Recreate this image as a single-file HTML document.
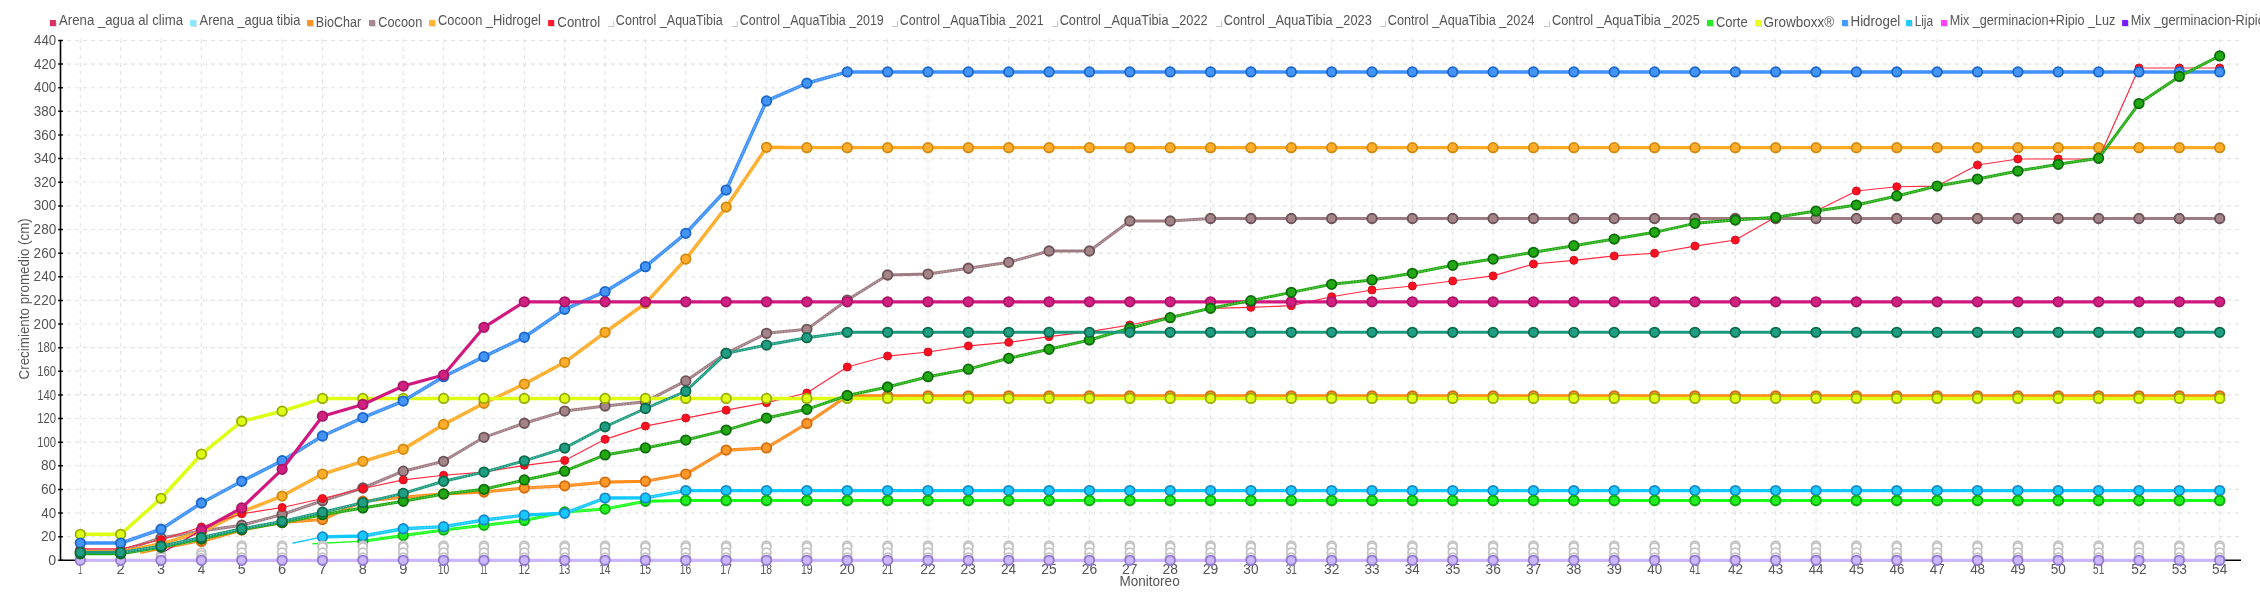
<!DOCTYPE html><html><head><meta charset="utf-8"><title>chart</title><style>
html,body{margin:0;padding:0;background:#fff;width:2260px;height:600px;overflow:hidden}
svg{display:block;position:absolute;left:0;top:0;will-change:transform}
text{font-family:"Liberation Sans", sans-serif;fill:#555555}
</style></head><body>
<svg width="2260" height="600" viewBox="0 0 2260 600">
<path d="M67 536.67 H2240 M67 513.04 H2240 M67 489.42 H2240 M67 465.79 H2240 M67 442.16 H2240 M67 418.53 H2240 M67 394.9 H2240 M67 371.28 H2240 M67 347.65 H2240 M67 324.02 H2240 M67 300.39 H2240 M67 276.76 H2240 M67 253.14 H2240 M67 229.51 H2240 M67 205.88 H2240 M67 182.25 H2240 M67 158.62 H2240 M67 135 H2240 M67 111.37 H2240 M67 87.74 H2240 M67 64.11 H2240 M67 40.48 H2240" stroke="#e2e2e2" stroke-width="1.1" stroke-dasharray="4 4" fill="none"/>
<path d="M80.3 39 V559 M120.67 39 V559 M161.03 39 V559 M201.4 39 V559 M241.76 39 V559 M282.13 39 V559 M322.5 39 V559 M362.86 39 V559 M403.23 39 V559 M443.59 39 V559 M483.96 39 V559 M524.33 39 V559 M564.69 39 V559 M605.06 39 V559 M645.42 39 V559 M685.79 39 V559 M726.16 39 V559 M766.52 39 V559 M806.89 39 V559 M847.25 39 V559 M887.62 39 V559 M927.99 39 V559 M968.35 39 V559 M1008.72 39 V559 M1049.08 39 V559 M1089.45 39 V559 M1129.82 39 V559 M1170.18 39 V559 M1210.55 39 V559 M1250.91 39 V559 M1291.28 39 V559 M1331.65 39 V559 M1372.01 39 V559 M1412.38 39 V559 M1452.74 39 V559 M1493.11 39 V559 M1533.48 39 V559 M1573.84 39 V559 M1614.21 39 V559 M1654.57 39 V559 M1694.94 39 V559 M1735.31 39 V559 M1775.67 39 V559 M1816.04 39 V559 M1856.4 39 V559 M1896.77 39 V559 M1937.14 39 V559 M1977.5 39 V559 M2017.87 39 V559 M2058.23 39 V559 M2098.6 39 V559 M2138.97 39 V559 M2179.33 39 V559 M2219.7 39 V559" stroke="#e2e2e2" stroke-width="1.1" stroke-dasharray="4 4" fill="none"/>
<path d="M60.5 40 V560.3 H2241" stroke="#000" stroke-width="1.6" fill="none"/>
<path d="M58.2 560.3 H62.9 M58.2 536.67 H62.9 M58.2 513.04 H62.9 M58.2 489.42 H62.9 M58.2 465.79 H62.9 M58.2 442.16 H62.9 M58.2 418.53 H62.9 M58.2 394.9 H62.9 M58.2 371.28 H62.9 M58.2 347.65 H62.9 M58.2 324.02 H62.9 M58.2 300.39 H62.9 M58.2 276.76 H62.9 M58.2 253.14 H62.9 M58.2 229.51 H62.9 M58.2 205.88 H62.9 M58.2 182.25 H62.9 M58.2 158.62 H62.9 M58.2 135 H62.9 M58.2 111.37 H62.9 M58.2 87.74 H62.9 M58.2 64.11 H62.9 M58.2 40.48 H62.9" stroke="#000" stroke-width="1.5" fill="none"/>
<text x="48.34" y="564.9" font-size="15.5" textLength="7.91" lengthAdjust="spacingAndGlyphs">0</text>
<text x="40.91" y="541.27" font-size="15.5" textLength="15.33" lengthAdjust="spacingAndGlyphs">20</text>
<text x="41.29" y="517.64" font-size="15.5" textLength="14.93" lengthAdjust="spacingAndGlyphs">40</text>
<text x="40.9" y="494.02" font-size="15.5" textLength="15.34" lengthAdjust="spacingAndGlyphs">60</text>
<text x="41" y="470.39" font-size="15.5" textLength="15.23" lengthAdjust="spacingAndGlyphs">80</text>
<text x="37.24" y="446.76" font-size="15.5" textLength="18.91" lengthAdjust="spacingAndGlyphs">100</text>
<text x="37.24" y="423.13" font-size="15.5" textLength="18.91" lengthAdjust="spacingAndGlyphs">120</text>
<text x="37.24" y="399.5" font-size="15.5" textLength="18.91" lengthAdjust="spacingAndGlyphs">140</text>
<text x="37.24" y="375.88" font-size="15.5" textLength="18.91" lengthAdjust="spacingAndGlyphs">160</text>
<text x="37.24" y="352.25" font-size="15.5" textLength="18.91" lengthAdjust="spacingAndGlyphs">180</text>
<text x="33.62" y="328.62" font-size="15.5" textLength="22.61" lengthAdjust="spacingAndGlyphs">200</text>
<text x="33.62" y="304.99" font-size="15.5" textLength="22.61" lengthAdjust="spacingAndGlyphs">220</text>
<text x="33.62" y="281.36" font-size="15.5" textLength="22.61" lengthAdjust="spacingAndGlyphs">240</text>
<text x="33.62" y="257.74" font-size="15.5" textLength="22.61" lengthAdjust="spacingAndGlyphs">260</text>
<text x="33.62" y="234.11" font-size="15.5" textLength="22.61" lengthAdjust="spacingAndGlyphs">280</text>
<text x="33.79" y="210.48" font-size="15.5" textLength="22.44" lengthAdjust="spacingAndGlyphs">300</text>
<text x="33.79" y="186.85" font-size="15.5" textLength="22.44" lengthAdjust="spacingAndGlyphs">320</text>
<text x="33.79" y="163.22" font-size="15.5" textLength="22.44" lengthAdjust="spacingAndGlyphs">340</text>
<text x="33.79" y="139.6" font-size="15.5" textLength="22.44" lengthAdjust="spacingAndGlyphs">360</text>
<text x="33.79" y="115.97" font-size="15.5" textLength="22.44" lengthAdjust="spacingAndGlyphs">380</text>
<text x="33.99" y="92.34" font-size="15.5" textLength="22.23" lengthAdjust="spacingAndGlyphs">400</text>
<text x="33.99" y="68.71" font-size="15.5" textLength="22.23" lengthAdjust="spacingAndGlyphs">420</text>
<text x="33.99" y="45.08" font-size="15.5" textLength="22.23" lengthAdjust="spacingAndGlyphs">440</text>
<text x="78.27" y="573.8" font-size="15.5" textLength="3.87" lengthAdjust="spacingAndGlyphs">1</text>
<text x="116.52" y="573.8" font-size="15.5" textLength="8.3" lengthAdjust="spacingAndGlyphs">2</text>
<text x="157.09" y="573.8" font-size="15.5" textLength="7.98" lengthAdjust="spacingAndGlyphs">3</text>
<text x="197.69" y="573.8" font-size="15.5" textLength="7.51" lengthAdjust="spacingAndGlyphs">4</text>
<text x="237.79" y="573.8" font-size="15.5" textLength="7.98" lengthAdjust="spacingAndGlyphs">5</text>
<text x="277.98" y="573.8" font-size="15.5" textLength="8.2" lengthAdjust="spacingAndGlyphs">6</text>
<text x="318.33" y="573.8" font-size="15.5" textLength="8.32" lengthAdjust="spacingAndGlyphs">7</text>
<text x="358.83" y="573.8" font-size="15.5" textLength="8.06" lengthAdjust="spacingAndGlyphs">8</text>
<text x="399.14" y="573.8" font-size="15.5" textLength="8.19" lengthAdjust="spacingAndGlyphs">9</text>
<text x="437.66" y="573.8" font-size="15.5" textLength="11.49" lengthAdjust="spacingAndGlyphs">10</text>
<text x="480.21" y="573.8" font-size="15.5" textLength="7.32" lengthAdjust="spacingAndGlyphs">11</text>
<text x="518.38" y="573.8" font-size="15.5" textLength="11.62" lengthAdjust="spacingAndGlyphs">12</text>
<text x="558.75" y="573.8" font-size="15.5" textLength="11.55" lengthAdjust="spacingAndGlyphs">13</text>
<text x="599.13" y="573.8" font-size="15.5" textLength="11.38" lengthAdjust="spacingAndGlyphs">14</text>
<text x="639.48" y="573.8" font-size="15.5" textLength="11.52" lengthAdjust="spacingAndGlyphs">15</text>
<text x="679.85" y="573.8" font-size="15.5" textLength="11.55" lengthAdjust="spacingAndGlyphs">16</text>
<text x="720.21" y="573.8" font-size="15.5" textLength="11.62" lengthAdjust="spacingAndGlyphs">17</text>
<text x="760.58" y="573.8" font-size="15.5" textLength="11.54" lengthAdjust="spacingAndGlyphs">18</text>
<text x="800.94" y="573.8" font-size="15.5" textLength="11.59" lengthAdjust="spacingAndGlyphs">19</text>
<text x="839.51" y="573.8" font-size="15.5" textLength="15.33" lengthAdjust="spacingAndGlyphs">20</text>
<text x="881.96" y="573.8" font-size="15.5" textLength="11.31" lengthAdjust="spacingAndGlyphs">21</text>
<text x="920.24" y="573.8" font-size="15.5" textLength="15.5" lengthAdjust="spacingAndGlyphs">22</text>
<text x="960.61" y="573.8" font-size="15.5" textLength="15.41" lengthAdjust="spacingAndGlyphs">23</text>
<text x="1000.98" y="573.8" font-size="15.5" textLength="15.19" lengthAdjust="spacingAndGlyphs">24</text>
<text x="1041.34" y="573.8" font-size="15.5" textLength="15.38" lengthAdjust="spacingAndGlyphs">25</text>
<text x="1081.7" y="573.8" font-size="15.5" textLength="15.41" lengthAdjust="spacingAndGlyphs">26</text>
<text x="1122.07" y="573.8" font-size="15.5" textLength="15.5" lengthAdjust="spacingAndGlyphs">27</text>
<text x="1162.44" y="573.8" font-size="15.5" textLength="15.4" lengthAdjust="spacingAndGlyphs">28</text>
<text x="1202.8" y="573.8" font-size="15.5" textLength="15.46" lengthAdjust="spacingAndGlyphs">29</text>
<text x="1243.35" y="573.8" font-size="15.5" textLength="15.15" lengthAdjust="spacingAndGlyphs">30</text>
<text x="1285.75" y="573.8" font-size="15.5" textLength="11.17" lengthAdjust="spacingAndGlyphs">31</text>
<text x="1324.07" y="573.8" font-size="15.5" textLength="15.32" lengthAdjust="spacingAndGlyphs">32</text>
<text x="1364.44" y="573.8" font-size="15.5" textLength="15.22" lengthAdjust="spacingAndGlyphs">33</text>
<text x="1404.81" y="573.8" font-size="15.5" textLength="15.01" lengthAdjust="spacingAndGlyphs">34</text>
<text x="1445.17" y="573.8" font-size="15.5" textLength="15.19" lengthAdjust="spacingAndGlyphs">35</text>
<text x="1485.54" y="573.8" font-size="15.5" textLength="15.22" lengthAdjust="spacingAndGlyphs">36</text>
<text x="1525.9" y="573.8" font-size="15.5" textLength="15.32" lengthAdjust="spacingAndGlyphs">37</text>
<text x="1566.27" y="573.8" font-size="15.5" textLength="15.22" lengthAdjust="spacingAndGlyphs">38</text>
<text x="1606.64" y="573.8" font-size="15.5" textLength="15.27" lengthAdjust="spacingAndGlyphs">39</text>
<text x="1647.22" y="573.8" font-size="15.5" textLength="14.93" lengthAdjust="spacingAndGlyphs">40</text>
<text x="1689.56" y="573.8" font-size="15.5" textLength="11.01" lengthAdjust="spacingAndGlyphs">41</text>
<text x="1727.94" y="573.8" font-size="15.5" textLength="15.09" lengthAdjust="spacingAndGlyphs">42</text>
<text x="1768.31" y="573.8" font-size="15.5" textLength="15" lengthAdjust="spacingAndGlyphs">43</text>
<text x="1808.68" y="573.8" font-size="15.5" textLength="14.79" lengthAdjust="spacingAndGlyphs">44</text>
<text x="1849.05" y="573.8" font-size="15.5" textLength="14.97" lengthAdjust="spacingAndGlyphs">45</text>
<text x="1889.41" y="573.8" font-size="15.5" textLength="15" lengthAdjust="spacingAndGlyphs">46</text>
<text x="1929.77" y="573.8" font-size="15.5" textLength="15.09" lengthAdjust="spacingAndGlyphs">47</text>
<text x="1970.14" y="573.8" font-size="15.5" textLength="15" lengthAdjust="spacingAndGlyphs">48</text>
<text x="2010.51" y="573.8" font-size="15.5" textLength="15.05" lengthAdjust="spacingAndGlyphs">49</text>
<text x="2050.64" y="573.8" font-size="15.5" textLength="15.18" lengthAdjust="spacingAndGlyphs">50</text>
<text x="2093.05" y="573.8" font-size="15.5" textLength="11.19" lengthAdjust="spacingAndGlyphs">51</text>
<text x="2131.36" y="573.8" font-size="15.5" textLength="15.35" lengthAdjust="spacingAndGlyphs">52</text>
<text x="2171.73" y="573.8" font-size="15.5" textLength="15.25" lengthAdjust="spacingAndGlyphs">53</text>
<text x="2212.11" y="573.8" font-size="15.5" textLength="15.04" lengthAdjust="spacingAndGlyphs">54</text>
<text x="1119.59" y="586" font-size="15.5" textLength="60.08" lengthAdjust="spacingAndGlyphs">Monitoreo</text>
<text transform="translate(29.2 378.75) rotate(-90)" x="-0.68" y="0" font-size="15.5" textLength="161.26" lengthAdjust="spacingAndGlyphs">Crecimiento promedio (cm)</text>
<path d="M140 553.2 L201.4 541.4" stroke="#ff8c1a" stroke-width="1.4" fill="none"/><path d="M201.4 541.4 241.76 530.06 282.13 522.5 322.5 519.54 362.86 501.23 403.23 497.33 443.59 493.91 483.96 492.02 524.33 488 564.69 485.87 605.06 482.09 645.42 481.26 685.79 474.06 726.16 450.08 766.52 447.95 806.89 423.49 847.25 395.85 887.62 395.85 927.99 395.85 968.35 395.85 1008.72 395.85 1049.08 395.85 1089.45 395.85 1129.82 395.85 1170.18 395.85 1210.55 395.85 1250.91 395.85 1291.28 395.85 1331.65 395.85 1372.01 395.85 1412.38 395.85 1452.74 395.85 1493.11 395.85 1533.48 395.85 1573.84 395.85 1614.21 395.85 1654.57 395.85 1694.94 395.85 1735.31 395.85 1775.67 395.85 1816.04 395.85 1856.4 395.85 1896.77 395.85 1937.14 395.85 1977.5 395.85 2017.87 395.85 2058.23 395.85 2098.6 395.85 2138.97 395.85 2179.33 395.85 2219.7 395.85" stroke="#ff8c1a" stroke-width="3.1" fill="none" stroke-linejoin="round" stroke-linecap="round"/><path d="M201.4 541.4 L241.76 530.06 M241.76 530.06 L282.13 522.5 M282.13 522.5 L322.5 519.54 M322.5 519.54 L362.86 501.23 M362.86 501.23 L403.23 497.33 M403.23 497.33 L443.59 493.91 M483.96 492.02 L524.33 488 M524.33 488 L564.69 485.87 M564.69 485.87 L605.06 482.09 M645.42 481.26 L685.79 474.06 M685.79 474.06 L726.16 450.08 M726.16 450.08 L766.52 447.95 M766.52 447.95 L806.89 423.49 M806.89 423.49 L847.25 395.85" stroke="#fff" stroke-opacity="0.45" stroke-width="0.9" stroke-dasharray="1.5 1.5" fill="none"/><g fill="#ff9a2a" stroke="#d36c10" stroke-width="1.8"><circle cx="201.4" cy="541.4" r="4.75"/><circle cx="241.76" cy="530.06" r="4.75"/><circle cx="282.13" cy="522.5" r="4.75"/><circle cx="322.5" cy="519.54" r="4.75"/><circle cx="362.86" cy="501.23" r="4.75"/><circle cx="403.23" cy="497.33" r="4.75"/><circle cx="443.59" cy="493.91" r="4.75"/><circle cx="483.96" cy="492.02" r="4.75"/><circle cx="524.33" cy="488" r="4.75"/><circle cx="564.69" cy="485.87" r="4.75"/><circle cx="605.06" cy="482.09" r="4.75"/><circle cx="645.42" cy="481.26" r="4.75"/><circle cx="685.79" cy="474.06" r="4.75"/><circle cx="726.16" cy="450.08" r="4.75"/><circle cx="766.52" cy="447.95" r="4.75"/><circle cx="806.89" cy="423.49" r="4.75"/><circle cx="847.25" cy="395.85" r="4.75"/><circle cx="887.62" cy="395.85" r="4.75"/><circle cx="927.99" cy="395.85" r="4.75"/><circle cx="968.35" cy="395.85" r="4.75"/><circle cx="1008.72" cy="395.85" r="4.75"/><circle cx="1049.08" cy="395.85" r="4.75"/><circle cx="1089.45" cy="395.85" r="4.75"/><circle cx="1129.82" cy="395.85" r="4.75"/><circle cx="1170.18" cy="395.85" r="4.75"/><circle cx="1210.55" cy="395.85" r="4.75"/><circle cx="1250.91" cy="395.85" r="4.75"/><circle cx="1291.28" cy="395.85" r="4.75"/><circle cx="1331.65" cy="395.85" r="4.75"/><circle cx="1372.01" cy="395.85" r="4.75"/><circle cx="1412.38" cy="395.85" r="4.75"/><circle cx="1452.74" cy="395.85" r="4.75"/><circle cx="1493.11" cy="395.85" r="4.75"/><circle cx="1533.48" cy="395.85" r="4.75"/><circle cx="1573.84" cy="395.85" r="4.75"/><circle cx="1614.21" cy="395.85" r="4.75"/><circle cx="1654.57" cy="395.85" r="4.75"/><circle cx="1694.94" cy="395.85" r="4.75"/><circle cx="1735.31" cy="395.85" r="4.75"/><circle cx="1775.67" cy="395.85" r="4.75"/><circle cx="1816.04" cy="395.85" r="4.75"/><circle cx="1856.4" cy="395.85" r="4.75"/><circle cx="1896.77" cy="395.85" r="4.75"/><circle cx="1937.14" cy="395.85" r="4.75"/><circle cx="1977.5" cy="395.85" r="4.75"/><circle cx="2017.87" cy="395.85" r="4.75"/><circle cx="2058.23" cy="395.85" r="4.75"/><circle cx="2098.6" cy="395.85" r="4.75"/><circle cx="2138.97" cy="395.85" r="4.75"/><circle cx="2179.33" cy="395.85" r="4.75"/><circle cx="2219.7" cy="395.85" r="4.75"/></g>
<path d="M80.3 550.85 120.67 550.85 161.03 537.97 201.4 531 241.76 525.21 282.13 514.46 322.5 500.76 362.86 488 403.23 471.22 443.59 461.3 483.96 437.32 524.33 423.26 564.69 411.09 605.06 406.01 645.42 401.64 685.79 380.96 726.16 353.32 766.52 333.35 806.89 329.34 847.25 300.04 887.62 274.99 927.99 274.05 968.35 268.26 1008.72 262.35 1049.08 251.01 1089.45 251.01 1129.82 221 1170.18 221 1210.55 218.52 1250.91 218.52 1291.28 218.52 1331.65 218.52 1372.01 218.52 1412.38 218.52 1452.74 218.52 1493.11 218.52 1533.48 218.52 1573.84 218.52 1614.21 218.52 1654.57 218.52 1694.94 218.52 1735.31 218.52 1775.67 218.52 1816.04 218.52 1856.4 218.52 1896.77 218.52 1937.14 218.52 1977.5 218.52 2017.87 218.52 2058.23 218.52 2098.6 218.52 2138.97 218.52 2179.33 218.52 2219.7 218.52" stroke="#9e7b82" stroke-width="3.0" fill="none" stroke-linejoin="round" stroke-linecap="round"/><path d="M120.67 550.85 L161.03 537.97 M161.03 537.97 L201.4 531 M201.4 531 L241.76 525.21 M241.76 525.21 L282.13 514.46 M282.13 514.46 L322.5 500.76 M322.5 500.76 L362.86 488 M362.86 488 L403.23 471.22 M403.23 471.22 L443.59 461.3 M443.59 461.3 L483.96 437.32 M483.96 437.32 L524.33 423.26 M524.33 423.26 L564.69 411.09 M564.69 411.09 L605.06 406.01 M605.06 406.01 L645.42 401.64 M645.42 401.64 L685.79 380.96 M685.79 380.96 L726.16 353.32 M726.16 353.32 L766.52 333.35 M766.52 333.35 L806.89 329.34 M806.89 329.34 L847.25 300.04 M847.25 300.04 L887.62 274.99 M927.99 274.05 L968.35 268.26 M968.35 268.26 L1008.72 262.35 M1008.72 262.35 L1049.08 251.01 M1089.45 251.01 L1129.82 221 M1170.18 221 L1210.55 218.52" stroke="#fff" stroke-opacity="0.45" stroke-width="0.9" stroke-dasharray="1.5 1.5" fill="none"/><g fill="#a38489" stroke="#6e5258" stroke-width="1.8"><circle cx="80.3" cy="550.85" r="4.75"/><circle cx="120.67" cy="550.85" r="4.75"/><circle cx="161.03" cy="537.97" r="4.75"/><circle cx="201.4" cy="531" r="4.75"/><circle cx="241.76" cy="525.21" r="4.75"/><circle cx="282.13" cy="514.46" r="4.75"/><circle cx="322.5" cy="500.76" r="4.75"/><circle cx="362.86" cy="488" r="4.75"/><circle cx="403.23" cy="471.22" r="4.75"/><circle cx="443.59" cy="461.3" r="4.75"/><circle cx="483.96" cy="437.32" r="4.75"/><circle cx="524.33" cy="423.26" r="4.75"/><circle cx="564.69" cy="411.09" r="4.75"/><circle cx="605.06" cy="406.01" r="4.75"/><circle cx="645.42" cy="401.64" r="4.75"/><circle cx="685.79" cy="380.96" r="4.75"/><circle cx="726.16" cy="353.32" r="4.75"/><circle cx="766.52" cy="333.35" r="4.75"/><circle cx="806.89" cy="329.34" r="4.75"/><circle cx="847.25" cy="300.04" r="4.75"/><circle cx="887.62" cy="274.99" r="4.75"/><circle cx="927.99" cy="274.05" r="4.75"/><circle cx="968.35" cy="268.26" r="4.75"/><circle cx="1008.72" cy="262.35" r="4.75"/><circle cx="1049.08" cy="251.01" r="4.75"/><circle cx="1089.45" cy="251.01" r="4.75"/><circle cx="1129.82" cy="221" r="4.75"/><circle cx="1170.18" cy="221" r="4.75"/><circle cx="1210.55" cy="218.52" r="4.75"/><circle cx="1250.91" cy="218.52" r="4.75"/><circle cx="1291.28" cy="218.52" r="4.75"/><circle cx="1331.65" cy="218.52" r="4.75"/><circle cx="1372.01" cy="218.52" r="4.75"/><circle cx="1412.38" cy="218.52" r="4.75"/><circle cx="1452.74" cy="218.52" r="4.75"/><circle cx="1493.11" cy="218.52" r="4.75"/><circle cx="1533.48" cy="218.52" r="4.75"/><circle cx="1573.84" cy="218.52" r="4.75"/><circle cx="1614.21" cy="218.52" r="4.75"/><circle cx="1654.57" cy="218.52" r="4.75"/><circle cx="1694.94" cy="218.52" r="4.75"/><circle cx="1735.31" cy="218.52" r="4.75"/><circle cx="1775.67" cy="218.52" r="4.75"/><circle cx="1816.04" cy="218.52" r="4.75"/><circle cx="1856.4" cy="218.52" r="4.75"/><circle cx="1896.77" cy="218.52" r="4.75"/><circle cx="1937.14" cy="218.52" r="4.75"/><circle cx="1977.5" cy="218.52" r="4.75"/><circle cx="2017.87" cy="218.52" r="4.75"/><circle cx="2058.23" cy="218.52" r="4.75"/><circle cx="2098.6" cy="218.52" r="4.75"/><circle cx="2138.97" cy="218.52" r="4.75"/><circle cx="2179.33" cy="218.52" r="4.75"/><circle cx="2219.7" cy="218.52" r="4.75"/></g>
<path d="M80.3 552.03 120.67 552.03 161.03 543.76 201.4 531.95 241.76 511.86 282.13 496.03 322.5 474.06 362.86 461.3 403.23 449.25 443.59 424.44 483.96 403.29 524.33 384.04 564.69 362.3 605.06 332.29 645.42 303.35 685.79 259.04 726.16 207.06 766.52 147.28 806.89 147.64 847.25 147.64 887.62 147.64 927.99 147.64 968.35 147.64 1008.72 147.64 1049.08 147.64 1089.45 147.64 1129.82 147.64 1170.18 147.64 1210.55 147.64 1250.91 147.64 1291.28 147.64 1331.65 147.64 1372.01 147.64 1412.38 147.64 1452.74 147.64 1493.11 147.64 1533.48 147.64 1573.84 147.64 1614.21 147.64 1654.57 147.64 1694.94 147.64 1735.31 147.64 1775.67 147.64 1816.04 147.64 1856.4 147.64 1896.77 147.64 1937.14 147.64 1977.5 147.64 2017.87 147.64 2058.23 147.64 2098.6 147.64 2138.97 147.64 2179.33 147.64 2219.7 147.64" stroke="#ffaa22" stroke-width="3.4" fill="none" stroke-linejoin="round" stroke-linecap="round"/><path d="M120.67 552.03 L161.03 543.76 M161.03 543.76 L201.4 531.95 M201.4 531.95 L241.76 511.86 M241.76 511.86 L282.13 496.03 M282.13 496.03 L322.5 474.06 M322.5 474.06 L362.86 461.3 M362.86 461.3 L403.23 449.25 M403.23 449.25 L443.59 424.44 M443.59 424.44 L483.96 403.29 M483.96 403.29 L524.33 384.04 M524.33 384.04 L564.69 362.3 M564.69 362.3 L605.06 332.29 M605.06 332.29 L645.42 303.35 M645.42 303.35 L685.79 259.04 M685.79 259.04 L726.16 207.06 M726.16 207.06 L766.52 147.28" stroke="#fff" stroke-opacity="0.45" stroke-width="0.9" stroke-dasharray="1.5 1.5" fill="none"/><g fill="#ffad2a" stroke="#d08a10" stroke-width="1.8"><circle cx="80.3" cy="552.03" r="4.75"/><circle cx="120.67" cy="552.03" r="4.75"/><circle cx="161.03" cy="543.76" r="4.75"/><circle cx="201.4" cy="531.95" r="4.75"/><circle cx="241.76" cy="511.86" r="4.75"/><circle cx="282.13" cy="496.03" r="4.75"/><circle cx="322.5" cy="474.06" r="4.75"/><circle cx="362.86" cy="461.3" r="4.75"/><circle cx="403.23" cy="449.25" r="4.75"/><circle cx="443.59" cy="424.44" r="4.75"/><circle cx="483.96" cy="403.29" r="4.75"/><circle cx="524.33" cy="384.04" r="4.75"/><circle cx="564.69" cy="362.3" r="4.75"/><circle cx="605.06" cy="332.29" r="4.75"/><circle cx="645.42" cy="303.35" r="4.75"/><circle cx="685.79" cy="259.04" r="4.75"/><circle cx="726.16" cy="207.06" r="4.75"/><circle cx="766.52" cy="147.28" r="4.75"/><circle cx="806.89" cy="147.64" r="4.75"/><circle cx="847.25" cy="147.64" r="4.75"/><circle cx="887.62" cy="147.64" r="4.75"/><circle cx="927.99" cy="147.64" r="4.75"/><circle cx="968.35" cy="147.64" r="4.75"/><circle cx="1008.72" cy="147.64" r="4.75"/><circle cx="1049.08" cy="147.64" r="4.75"/><circle cx="1089.45" cy="147.64" r="4.75"/><circle cx="1129.82" cy="147.64" r="4.75"/><circle cx="1170.18" cy="147.64" r="4.75"/><circle cx="1210.55" cy="147.64" r="4.75"/><circle cx="1250.91" cy="147.64" r="4.75"/><circle cx="1291.28" cy="147.64" r="4.75"/><circle cx="1331.65" cy="147.64" r="4.75"/><circle cx="1372.01" cy="147.64" r="4.75"/><circle cx="1412.38" cy="147.64" r="4.75"/><circle cx="1452.74" cy="147.64" r="4.75"/><circle cx="1493.11" cy="147.64" r="4.75"/><circle cx="1533.48" cy="147.64" r="4.75"/><circle cx="1573.84" cy="147.64" r="4.75"/><circle cx="1614.21" cy="147.64" r="4.75"/><circle cx="1654.57" cy="147.64" r="4.75"/><circle cx="1694.94" cy="147.64" r="4.75"/><circle cx="1735.31" cy="147.64" r="4.75"/><circle cx="1775.67" cy="147.64" r="4.75"/><circle cx="1816.04" cy="147.64" r="4.75"/><circle cx="1856.4" cy="147.64" r="4.75"/><circle cx="1896.77" cy="147.64" r="4.75"/><circle cx="1937.14" cy="147.64" r="4.75"/><circle cx="1977.5" cy="147.64" r="4.75"/><circle cx="2017.87" cy="147.64" r="4.75"/><circle cx="2058.23" cy="147.64" r="4.75"/><circle cx="2098.6" cy="147.64" r="4.75"/><circle cx="2138.97" cy="147.64" r="4.75"/><circle cx="2179.33" cy="147.64" r="4.75"/><circle cx="2219.7" cy="147.64" r="4.75"/></g>
<path d="M80.3 548.96 120.67 548.96 161.03 539.74 201.4 526.98 241.76 513.75 282.13 507.49 322.5 498.51 362.86 488.47 403.23 479.96 443.59 475.24 483.96 472.05 524.33 465.32 564.69 460.47 605.06 439.32 645.42 426.09 685.79 418.06 726.16 410.14 766.52 402.7 806.89 393.01 847.25 367.02 887.62 356.04 927.99 352.02 968.35 345.88 1008.72 342.33 1049.08 336.66 1089.45 331.7 1129.82 324.97 1170.18 316.7 1210.55 308.31 1250.91 307.36 1291.28 305.71 1331.65 296.73 1372.01 290 1412.38 285.98 1452.74 281.02 1493.11 275.94 1533.48 264 1573.84 260.34 1614.21 255.97 1654.57 253.25 1694.94 246.05 1735.31 240.02 1775.67 217.1 1816.04 211.08 1856.4 190.99 1896.77 186.74 1937.14 186.03 1977.5 165 2017.87 158.98 2058.23 158.98 2098.6 158.98 2138.97 68.01 2179.33 68.01 2219.7 68.01" stroke="#ff2a40" stroke-width="1.2" fill="none" stroke-linejoin="round" stroke-linecap="round"/><g fill="#ff1020" stroke="#d01020" stroke-width="1.0"><circle cx="80.3" cy="548.96" r="4.0"/><circle cx="120.67" cy="548.96" r="4.0"/><circle cx="161.03" cy="539.74" r="4.0"/><circle cx="201.4" cy="526.98" r="4.0"/><circle cx="241.76" cy="513.75" r="4.0"/><circle cx="282.13" cy="507.49" r="4.0"/><circle cx="322.5" cy="498.51" r="4.0"/><circle cx="362.86" cy="488.47" r="4.0"/><circle cx="403.23" cy="479.96" r="4.0"/><circle cx="443.59" cy="475.24" r="4.0"/><circle cx="483.96" cy="472.05" r="4.0"/><circle cx="524.33" cy="465.32" r="4.0"/><circle cx="564.69" cy="460.47" r="4.0"/><circle cx="605.06" cy="439.32" r="4.0"/><circle cx="645.42" cy="426.09" r="4.0"/><circle cx="685.79" cy="418.06" r="4.0"/><circle cx="726.16" cy="410.14" r="4.0"/><circle cx="766.52" cy="402.7" r="4.0"/><circle cx="806.89" cy="393.01" r="4.0"/><circle cx="847.25" cy="367.02" r="4.0"/><circle cx="887.62" cy="356.04" r="4.0"/><circle cx="927.99" cy="352.02" r="4.0"/><circle cx="968.35" cy="345.88" r="4.0"/><circle cx="1008.72" cy="342.33" r="4.0"/><circle cx="1049.08" cy="336.66" r="4.0"/><circle cx="1089.45" cy="331.7" r="4.0"/><circle cx="1129.82" cy="324.97" r="4.0"/><circle cx="1170.18" cy="316.7" r="4.0"/><circle cx="1210.55" cy="308.31" r="4.0"/><circle cx="1250.91" cy="307.36" r="4.0"/><circle cx="1291.28" cy="305.71" r="4.0"/><circle cx="1331.65" cy="296.73" r="4.0"/><circle cx="1372.01" cy="290" r="4.0"/><circle cx="1412.38" cy="285.98" r="4.0"/><circle cx="1452.74" cy="281.02" r="4.0"/><circle cx="1493.11" cy="275.94" r="4.0"/><circle cx="1533.48" cy="264" r="4.0"/><circle cx="1573.84" cy="260.34" r="4.0"/><circle cx="1614.21" cy="255.97" r="4.0"/><circle cx="1654.57" cy="253.25" r="4.0"/><circle cx="1694.94" cy="246.05" r="4.0"/><circle cx="1735.31" cy="240.02" r="4.0"/><circle cx="1775.67" cy="217.1" r="4.0"/><circle cx="1816.04" cy="211.08" r="4.0"/><circle cx="1856.4" cy="190.99" r="4.0"/><circle cx="1896.77" cy="186.74" r="4.0"/><circle cx="1937.14" cy="186.03" r="4.0"/><circle cx="1977.5" cy="165" r="4.0"/><circle cx="2017.87" cy="158.98" r="4.0"/><circle cx="2058.23" cy="158.98" r="4.0"/><circle cx="2098.6" cy="158.98" r="4.0"/><circle cx="2138.97" cy="68.01" r="4.0"/><circle cx="2179.33" cy="68.01" r="4.0"/><circle cx="2219.7" cy="68.01" r="4.0"/></g>
<path d="M80.3 534.31 120.67 534.31 161.03 498.28 201.4 454.21 241.76 421.25 282.13 411.21 322.5 398.45 362.86 398.45 403.23 398.45 443.59 398.45 483.96 398.45 524.33 398.45 564.69 398.45 605.06 398.45 645.42 398.45 685.79 398.45 726.16 398.45 766.52 398.45 806.89 398.45 847.25 398.45 887.62 398.45 927.99 398.45 968.35 398.45 1008.72 398.45 1049.08 398.45 1089.45 398.45 1129.82 398.45 1170.18 398.45 1210.55 398.45 1250.91 398.45 1291.28 398.45 1331.65 398.45 1372.01 398.45 1412.38 398.45 1452.74 398.45 1493.11 398.45 1533.48 398.45 1573.84 398.45 1614.21 398.45 1654.57 398.45 1694.94 398.45 1735.31 398.45 1775.67 398.45 1816.04 398.45 1856.4 398.45 1896.77 398.45 1937.14 398.45 1977.5 398.45 2017.87 398.45 2058.23 398.45 2098.6 398.45 2138.97 398.45 2179.33 398.45 2219.7 398.45" stroke="#ddff11" stroke-width="3.5" fill="none" stroke-linejoin="round" stroke-linecap="round"/><g fill="#ddff11" stroke="#9aab00" stroke-width="1.8"><circle cx="80.3" cy="534.31" r="4.75"/><circle cx="120.67" cy="534.31" r="4.75"/><circle cx="161.03" cy="498.28" r="4.75"/><circle cx="201.4" cy="454.21" r="4.75"/><circle cx="241.76" cy="421.25" r="4.75"/><circle cx="282.13" cy="411.21" r="4.75"/><circle cx="322.5" cy="398.45" r="4.75"/><circle cx="362.86" cy="398.45" r="4.75"/><circle cx="403.23" cy="398.45" r="4.75"/><circle cx="443.59" cy="398.45" r="4.75"/><circle cx="483.96" cy="398.45" r="4.75"/><circle cx="524.33" cy="398.45" r="4.75"/><circle cx="564.69" cy="398.45" r="4.75"/><circle cx="605.06" cy="398.45" r="4.75"/><circle cx="645.42" cy="398.45" r="4.75"/><circle cx="685.79" cy="398.45" r="4.75"/><circle cx="726.16" cy="398.45" r="4.75"/><circle cx="766.52" cy="398.45" r="4.75"/><circle cx="806.89" cy="398.45" r="4.75"/><circle cx="847.25" cy="398.45" r="4.75"/><circle cx="887.62" cy="398.45" r="4.75"/><circle cx="927.99" cy="398.45" r="4.75"/><circle cx="968.35" cy="398.45" r="4.75"/><circle cx="1008.72" cy="398.45" r="4.75"/><circle cx="1049.08" cy="398.45" r="4.75"/><circle cx="1089.45" cy="398.45" r="4.75"/><circle cx="1129.82" cy="398.45" r="4.75"/><circle cx="1170.18" cy="398.45" r="4.75"/><circle cx="1210.55" cy="398.45" r="4.75"/><circle cx="1250.91" cy="398.45" r="4.75"/><circle cx="1291.28" cy="398.45" r="4.75"/><circle cx="1331.65" cy="398.45" r="4.75"/><circle cx="1372.01" cy="398.45" r="4.75"/><circle cx="1412.38" cy="398.45" r="4.75"/><circle cx="1452.74" cy="398.45" r="4.75"/><circle cx="1493.11" cy="398.45" r="4.75"/><circle cx="1533.48" cy="398.45" r="4.75"/><circle cx="1573.84" cy="398.45" r="4.75"/><circle cx="1614.21" cy="398.45" r="4.75"/><circle cx="1654.57" cy="398.45" r="4.75"/><circle cx="1694.94" cy="398.45" r="4.75"/><circle cx="1735.31" cy="398.45" r="4.75"/><circle cx="1775.67" cy="398.45" r="4.75"/><circle cx="1816.04" cy="398.45" r="4.75"/><circle cx="1856.4" cy="398.45" r="4.75"/><circle cx="1896.77" cy="398.45" r="4.75"/><circle cx="1937.14" cy="398.45" r="4.75"/><circle cx="1977.5" cy="398.45" r="4.75"/><circle cx="2017.87" cy="398.45" r="4.75"/><circle cx="2058.23" cy="398.45" r="4.75"/><circle cx="2098.6" cy="398.45" r="4.75"/><circle cx="2138.97" cy="398.45" r="4.75"/><circle cx="2179.33" cy="398.45" r="4.75"/><circle cx="2219.7" cy="398.45" r="4.75"/></g>
<path d="M80.3 543.05 120.67 543.05 161.03 529.23 201.4 503 241.76 481.26 282.13 460.71 322.5 436.02 362.86 417.59 403.23 401.05 443.59 376.71 483.96 356.63 524.33 337.25 564.69 309.37 605.06 291.65 645.42 266.72 685.79 233.29 726.16 190.05 766.52 100.97 806.89 83.25 847.25 71.91 887.62 71.91 927.99 71.91 968.35 71.91 1008.72 71.91 1049.08 71.91 1089.45 71.91 1129.82 71.91 1170.18 71.91 1210.55 71.91 1250.91 71.91 1291.28 71.91 1331.65 71.91 1372.01 71.91 1412.38 71.91 1452.74 71.91 1493.11 71.91 1533.48 71.91 1573.84 71.91 1614.21 71.91 1654.57 71.91 1694.94 71.91 1735.31 71.91 1775.67 71.91 1816.04 71.91 1856.4 71.91 1896.77 71.91 1937.14 71.91 1977.5 71.91 2017.87 71.91 2058.23 71.91 2098.6 71.91 2138.97 71.91 2179.33 71.91 2219.7 71.91" stroke="#3d91ff" stroke-width="3.5" fill="none" stroke-linejoin="round" stroke-linecap="round"/><path d="M120.67 543.05 L161.03 529.23 M161.03 529.23 L201.4 503 M201.4 503 L241.76 481.26 M241.76 481.26 L282.13 460.71 M282.13 460.71 L322.5 436.02 M322.5 436.02 L362.86 417.59 M362.86 417.59 L403.23 401.05 M403.23 401.05 L443.59 376.71 M443.59 376.71 L483.96 356.63 M483.96 356.63 L524.33 337.25 M524.33 337.25 L564.69 309.37 M564.69 309.37 L605.06 291.65 M605.06 291.65 L645.42 266.72 M645.42 266.72 L685.79 233.29 M685.79 233.29 L726.16 190.05 M726.16 190.05 L766.52 100.97 M766.52 100.97 L806.89 83.25 M806.89 83.25 L847.25 71.91" stroke="#fff" stroke-opacity="0.45" stroke-width="0.9" stroke-dasharray="1.5 1.5" fill="none"/><g fill="#4494f5" stroke="#1a66cc" stroke-width="1.8"><circle cx="80.3" cy="543.05" r="4.75"/><circle cx="120.67" cy="543.05" r="4.75"/><circle cx="161.03" cy="529.23" r="4.75"/><circle cx="201.4" cy="503" r="4.75"/><circle cx="241.76" cy="481.26" r="4.75"/><circle cx="282.13" cy="460.71" r="4.75"/><circle cx="322.5" cy="436.02" r="4.75"/><circle cx="362.86" cy="417.59" r="4.75"/><circle cx="403.23" cy="401.05" r="4.75"/><circle cx="443.59" cy="376.71" r="4.75"/><circle cx="483.96" cy="356.63" r="4.75"/><circle cx="524.33" cy="337.25" r="4.75"/><circle cx="564.69" cy="309.37" r="4.75"/><circle cx="605.06" cy="291.65" r="4.75"/><circle cx="645.42" cy="266.72" r="4.75"/><circle cx="685.79" cy="233.29" r="4.75"/><circle cx="726.16" cy="190.05" r="4.75"/><circle cx="766.52" cy="100.97" r="4.75"/><circle cx="806.89" cy="83.25" r="4.75"/><circle cx="847.25" cy="71.91" r="4.75"/><circle cx="887.62" cy="71.91" r="4.75"/><circle cx="927.99" cy="71.91" r="4.75"/><circle cx="968.35" cy="71.91" r="4.75"/><circle cx="1008.72" cy="71.91" r="4.75"/><circle cx="1049.08" cy="71.91" r="4.75"/><circle cx="1089.45" cy="71.91" r="4.75"/><circle cx="1129.82" cy="71.91" r="4.75"/><circle cx="1170.18" cy="71.91" r="4.75"/><circle cx="1210.55" cy="71.91" r="4.75"/><circle cx="1250.91" cy="71.91" r="4.75"/><circle cx="1291.28" cy="71.91" r="4.75"/><circle cx="1331.65" cy="71.91" r="4.75"/><circle cx="1372.01" cy="71.91" r="4.75"/><circle cx="1412.38" cy="71.91" r="4.75"/><circle cx="1452.74" cy="71.91" r="4.75"/><circle cx="1493.11" cy="71.91" r="4.75"/><circle cx="1533.48" cy="71.91" r="4.75"/><circle cx="1573.84" cy="71.91" r="4.75"/><circle cx="1614.21" cy="71.91" r="4.75"/><circle cx="1654.57" cy="71.91" r="4.75"/><circle cx="1694.94" cy="71.91" r="4.75"/><circle cx="1735.31" cy="71.91" r="4.75"/><circle cx="1775.67" cy="71.91" r="4.75"/><circle cx="1816.04" cy="71.91" r="4.75"/><circle cx="1856.4" cy="71.91" r="4.75"/><circle cx="1896.77" cy="71.91" r="4.75"/><circle cx="1937.14" cy="71.91" r="4.75"/><circle cx="1977.5" cy="71.91" r="4.75"/><circle cx="2017.87" cy="71.91" r="4.75"/><circle cx="2058.23" cy="71.91" r="4.75"/><circle cx="2098.6" cy="71.91" r="4.75"/><circle cx="2138.97" cy="71.91" r="4.75"/><circle cx="2179.33" cy="71.91" r="4.75"/><circle cx="2219.7" cy="71.91" r="4.75"/></g>
<path d="M161 553.5 L201.4 530.06" stroke="#d0187e" stroke-width="1.4" fill="none"/><path d="M201.4 530.06 241.76 507.96 282.13 469.33 322.5 416.17 362.86 404.47 403.23 386.04 443.59 375.06 483.96 327.33 524.33 301.81 564.69 301.81 605.06 301.81 645.42 301.81 685.79 301.81 726.16 301.81 766.52 301.81 806.89 301.81 847.25 301.81 887.62 301.81 927.99 301.81 968.35 301.81 1008.72 301.81 1049.08 301.81 1089.45 301.81 1129.82 301.81 1170.18 301.81 1210.55 301.81 1250.91 301.81 1291.28 301.81 1331.65 301.81 1372.01 301.81 1412.38 301.81 1452.74 301.81 1493.11 301.81 1533.48 301.81 1573.84 301.81 1614.21 301.81 1654.57 301.81 1694.94 301.81 1735.31 301.81 1775.67 301.81 1816.04 301.81 1856.4 301.81 1896.77 301.81 1937.14 301.81 1977.5 301.81 2017.87 301.81 2058.23 301.81 2098.6 301.81 2138.97 301.81 2179.33 301.81 2219.7 301.81" stroke="#d0187e" stroke-width="3.2" fill="none" stroke-linejoin="round" stroke-linecap="round"/><g fill="#d02080" stroke="#a81568" stroke-width="1.8"><circle cx="201.4" cy="530.06" r="4.75"/><circle cx="241.76" cy="507.96" r="4.75"/><circle cx="282.13" cy="469.33" r="4.75"/><circle cx="322.5" cy="416.17" r="4.75"/><circle cx="362.86" cy="404.47" r="4.75"/><circle cx="403.23" cy="386.04" r="4.75"/><circle cx="443.59" cy="375.06" r="4.75"/><circle cx="483.96" cy="327.33" r="4.75"/><circle cx="524.33" cy="301.81" r="4.75"/><circle cx="564.69" cy="301.81" r="4.75"/><circle cx="605.06" cy="301.81" r="4.75"/><circle cx="645.42" cy="301.81" r="4.75"/><circle cx="685.79" cy="301.81" r="4.75"/><circle cx="726.16" cy="301.81" r="4.75"/><circle cx="766.52" cy="301.81" r="4.75"/><circle cx="806.89" cy="301.81" r="4.75"/><circle cx="847.25" cy="301.81" r="4.75"/><circle cx="887.62" cy="301.81" r="4.75"/><circle cx="927.99" cy="301.81" r="4.75"/><circle cx="968.35" cy="301.81" r="4.75"/><circle cx="1008.72" cy="301.81" r="4.75"/><circle cx="1049.08" cy="301.81" r="4.75"/><circle cx="1089.45" cy="301.81" r="4.75"/><circle cx="1129.82" cy="301.81" r="4.75"/><circle cx="1170.18" cy="301.81" r="4.75"/><circle cx="1210.55" cy="301.81" r="4.75"/><circle cx="1250.91" cy="301.81" r="4.75"/><circle cx="1291.28" cy="301.81" r="4.75"/><circle cx="1331.65" cy="301.81" r="4.75"/><circle cx="1372.01" cy="301.81" r="4.75"/><circle cx="1412.38" cy="301.81" r="4.75"/><circle cx="1452.74" cy="301.81" r="4.75"/><circle cx="1493.11" cy="301.81" r="4.75"/><circle cx="1533.48" cy="301.81" r="4.75"/><circle cx="1573.84" cy="301.81" r="4.75"/><circle cx="1614.21" cy="301.81" r="4.75"/><circle cx="1654.57" cy="301.81" r="4.75"/><circle cx="1694.94" cy="301.81" r="4.75"/><circle cx="1735.31" cy="301.81" r="4.75"/><circle cx="1775.67" cy="301.81" r="4.75"/><circle cx="1816.04" cy="301.81" r="4.75"/><circle cx="1856.4" cy="301.81" r="4.75"/><circle cx="1896.77" cy="301.81" r="4.75"/><circle cx="1937.14" cy="301.81" r="4.75"/><circle cx="1977.5" cy="301.81" r="4.75"/><circle cx="2017.87" cy="301.81" r="4.75"/><circle cx="2058.23" cy="301.81" r="4.75"/><circle cx="2098.6" cy="301.81" r="4.75"/><circle cx="2138.97" cy="301.81" r="4.75"/><circle cx="2179.33" cy="301.81" r="4.75"/><circle cx="2219.7" cy="301.81" r="4.75"/></g>
<path d="M312.5 543.75 L362.86 541.16" stroke="#1aff1a" stroke-width="1.4" fill="none"/><path d="M362.86 541.16 403.23 535.49 443.59 529.94 483.96 525.33 524.33 520.49 564.69 511.98 605.06 509.03 645.42 501.23 685.79 500.52 726.16 500.52 766.52 500.52 806.89 500.52 847.25 500.52 887.62 500.52 927.99 500.52 968.35 500.52 1008.72 500.52 1049.08 500.52 1089.45 500.52 1129.82 500.52 1170.18 500.52 1210.55 500.52 1250.91 500.52 1291.28 500.52 1331.65 500.52 1372.01 500.52 1412.38 500.52 1452.74 500.52 1493.11 500.52 1533.48 500.52 1573.84 500.52 1614.21 500.52 1654.57 500.52 1694.94 500.52 1735.31 500.52 1775.67 500.52 1816.04 500.52 1856.4 500.52 1896.77 500.52 1937.14 500.52 1977.5 500.52 2017.87 500.52 2058.23 500.52 2098.6 500.52 2138.97 500.52 2179.33 500.52 2219.7 500.52" stroke="#1aff1a" stroke-width="3.0" fill="none" stroke-linejoin="round" stroke-linecap="round"/><path d="M362.86 541.16 L403.23 535.49 M403.23 535.49 L443.59 529.94 M443.59 529.94 L483.96 525.33 M483.96 525.33 L524.33 520.49 M524.33 520.49 L564.69 511.98 M564.69 511.98 L605.06 509.03 M605.06 509.03 L645.42 501.23" stroke="#fff" stroke-opacity="0.45" stroke-width="0.9" stroke-dasharray="1.5 1.5" fill="none"/><g fill="#22ee22" stroke="#0fb00f" stroke-width="1.8"><circle cx="362.86" cy="541.16" r="4.75"/><circle cx="403.23" cy="535.49" r="4.75"/><circle cx="443.59" cy="529.94" r="4.75"/><circle cx="483.96" cy="525.33" r="4.75"/><circle cx="524.33" cy="520.49" r="4.75"/><circle cx="564.69" cy="511.98" r="4.75"/><circle cx="605.06" cy="509.03" r="4.75"/><circle cx="645.42" cy="501.23" r="4.75"/><circle cx="685.79" cy="500.52" r="4.75"/><circle cx="726.16" cy="500.52" r="4.75"/><circle cx="766.52" cy="500.52" r="4.75"/><circle cx="806.89" cy="500.52" r="4.75"/><circle cx="847.25" cy="500.52" r="4.75"/><circle cx="887.62" cy="500.52" r="4.75"/><circle cx="927.99" cy="500.52" r="4.75"/><circle cx="968.35" cy="500.52" r="4.75"/><circle cx="1008.72" cy="500.52" r="4.75"/><circle cx="1049.08" cy="500.52" r="4.75"/><circle cx="1089.45" cy="500.52" r="4.75"/><circle cx="1129.82" cy="500.52" r="4.75"/><circle cx="1170.18" cy="500.52" r="4.75"/><circle cx="1210.55" cy="500.52" r="4.75"/><circle cx="1250.91" cy="500.52" r="4.75"/><circle cx="1291.28" cy="500.52" r="4.75"/><circle cx="1331.65" cy="500.52" r="4.75"/><circle cx="1372.01" cy="500.52" r="4.75"/><circle cx="1412.38" cy="500.52" r="4.75"/><circle cx="1452.74" cy="500.52" r="4.75"/><circle cx="1493.11" cy="500.52" r="4.75"/><circle cx="1533.48" cy="500.52" r="4.75"/><circle cx="1573.84" cy="500.52" r="4.75"/><circle cx="1614.21" cy="500.52" r="4.75"/><circle cx="1654.57" cy="500.52" r="4.75"/><circle cx="1694.94" cy="500.52" r="4.75"/><circle cx="1735.31" cy="500.52" r="4.75"/><circle cx="1775.67" cy="500.52" r="4.75"/><circle cx="1816.04" cy="500.52" r="4.75"/><circle cx="1856.4" cy="500.52" r="4.75"/><circle cx="1896.77" cy="500.52" r="4.75"/><circle cx="1937.14" cy="500.52" r="4.75"/><circle cx="1977.5" cy="500.52" r="4.75"/><circle cx="2017.87" cy="500.52" r="4.75"/><circle cx="2058.23" cy="500.52" r="4.75"/><circle cx="2098.6" cy="500.52" r="4.75"/><circle cx="2138.97" cy="500.52" r="4.75"/><circle cx="2179.33" cy="500.52" r="4.75"/><circle cx="2219.7" cy="500.52" r="4.75"/></g>
<path d="M292.5 543.25 L322.5 536.91" stroke="#11c8ff" stroke-width="1.4" fill="none"/><path d="M322.5 536.91 362.86 535.96 403.23 528.76 443.59 526.63 483.96 520.01 524.33 515.17 564.69 513.28 605.06 498.04 645.42 497.92 685.79 490.6 726.16 490.6 766.52 490.6 806.89 490.6 847.25 490.6 887.62 490.6 927.99 490.6 968.35 490.6 1008.72 490.6 1049.08 490.6 1089.45 490.6 1129.82 490.6 1170.18 490.6 1210.55 490.6 1250.91 490.6 1291.28 490.6 1331.65 490.6 1372.01 490.6 1412.38 490.6 1452.74 490.6 1493.11 490.6 1533.48 490.6 1573.84 490.6 1614.21 490.6 1654.57 490.6 1694.94 490.6 1735.31 490.6 1775.67 490.6 1816.04 490.6 1856.4 490.6 1896.77 490.6 1937.14 490.6 1977.5 490.6 2017.87 490.6 2058.23 490.6 2098.6 490.6 2138.97 490.6 2179.33 490.6 2219.7 490.6" stroke="#11c8ff" stroke-width="3.4" fill="none" stroke-linejoin="round" stroke-linecap="round"/><path d="M362.86 535.96 L403.23 528.76 M403.23 528.76 L443.59 526.63 M443.59 526.63 L483.96 520.01 M483.96 520.01 L524.33 515.17 M564.69 513.28 L605.06 498.04 M645.42 497.92 L685.79 490.6" stroke="#fff" stroke-opacity="0.45" stroke-width="0.9" stroke-dasharray="1.5 1.5" fill="none"/><g fill="#18c8ff" stroke="#1688cc" stroke-width="1.8"><circle cx="322.5" cy="536.91" r="4.75"/><circle cx="362.86" cy="535.96" r="4.75"/><circle cx="403.23" cy="528.76" r="4.75"/><circle cx="443.59" cy="526.63" r="4.75"/><circle cx="483.96" cy="520.01" r="4.75"/><circle cx="524.33" cy="515.17" r="4.75"/><circle cx="564.69" cy="513.28" r="4.75"/><circle cx="605.06" cy="498.04" r="4.75"/><circle cx="645.42" cy="497.92" r="4.75"/><circle cx="685.79" cy="490.6" r="4.75"/><circle cx="726.16" cy="490.6" r="4.75"/><circle cx="766.52" cy="490.6" r="4.75"/><circle cx="806.89" cy="490.6" r="4.75"/><circle cx="847.25" cy="490.6" r="4.75"/><circle cx="887.62" cy="490.6" r="4.75"/><circle cx="927.99" cy="490.6" r="4.75"/><circle cx="968.35" cy="490.6" r="4.75"/><circle cx="1008.72" cy="490.6" r="4.75"/><circle cx="1049.08" cy="490.6" r="4.75"/><circle cx="1089.45" cy="490.6" r="4.75"/><circle cx="1129.82" cy="490.6" r="4.75"/><circle cx="1170.18" cy="490.6" r="4.75"/><circle cx="1210.55" cy="490.6" r="4.75"/><circle cx="1250.91" cy="490.6" r="4.75"/><circle cx="1291.28" cy="490.6" r="4.75"/><circle cx="1331.65" cy="490.6" r="4.75"/><circle cx="1372.01" cy="490.6" r="4.75"/><circle cx="1412.38" cy="490.6" r="4.75"/><circle cx="1452.74" cy="490.6" r="4.75"/><circle cx="1493.11" cy="490.6" r="4.75"/><circle cx="1533.48" cy="490.6" r="4.75"/><circle cx="1573.84" cy="490.6" r="4.75"/><circle cx="1614.21" cy="490.6" r="4.75"/><circle cx="1654.57" cy="490.6" r="4.75"/><circle cx="1694.94" cy="490.6" r="4.75"/><circle cx="1735.31" cy="490.6" r="4.75"/><circle cx="1775.67" cy="490.6" r="4.75"/><circle cx="1816.04" cy="490.6" r="4.75"/><circle cx="1856.4" cy="490.6" r="4.75"/><circle cx="1896.77" cy="490.6" r="4.75"/><circle cx="1937.14" cy="490.6" r="4.75"/><circle cx="1977.5" cy="490.6" r="4.75"/><circle cx="2017.87" cy="490.6" r="4.75"/><circle cx="2058.23" cy="490.6" r="4.75"/><circle cx="2098.6" cy="490.6" r="4.75"/><circle cx="2138.97" cy="490.6" r="4.75"/><circle cx="2179.33" cy="490.6" r="4.75"/><circle cx="2219.7" cy="490.6" r="4.75"/></g>
<g fill="#22ee22" stroke="#0fb00f" stroke-width="1.8"><circle cx="685.79" cy="500.52" r="4.75"/><circle cx="726.16" cy="500.52" r="4.75"/><circle cx="766.52" cy="500.52" r="4.75"/><circle cx="806.89" cy="500.52" r="4.75"/><circle cx="847.25" cy="500.52" r="4.75"/><circle cx="887.62" cy="500.52" r="4.75"/><circle cx="927.99" cy="500.52" r="4.75"/><circle cx="968.35" cy="500.52" r="4.75"/><circle cx="1008.72" cy="500.52" r="4.75"/><circle cx="1049.08" cy="500.52" r="4.75"/><circle cx="1089.45" cy="500.52" r="4.75"/><circle cx="1129.82" cy="500.52" r="4.75"/><circle cx="1170.18" cy="500.52" r="4.75"/><circle cx="1210.55" cy="500.52" r="4.75"/><circle cx="1250.91" cy="500.52" r="4.75"/><circle cx="1291.28" cy="500.52" r="4.75"/><circle cx="1331.65" cy="500.52" r="4.75"/><circle cx="1372.01" cy="500.52" r="4.75"/><circle cx="1412.38" cy="500.52" r="4.75"/><circle cx="1452.74" cy="500.52" r="4.75"/><circle cx="1493.11" cy="500.52" r="4.75"/><circle cx="1533.48" cy="500.52" r="4.75"/><circle cx="1573.84" cy="500.52" r="4.75"/><circle cx="1614.21" cy="500.52" r="4.75"/><circle cx="1654.57" cy="500.52" r="4.75"/><circle cx="1694.94" cy="500.52" r="4.75"/><circle cx="1735.31" cy="500.52" r="4.75"/><circle cx="1775.67" cy="500.52" r="4.75"/><circle cx="1816.04" cy="500.52" r="4.75"/><circle cx="1856.4" cy="500.52" r="4.75"/><circle cx="1896.77" cy="500.52" r="4.75"/><circle cx="1937.14" cy="500.52" r="4.75"/><circle cx="1977.5" cy="500.52" r="4.75"/><circle cx="2017.87" cy="500.52" r="4.75"/><circle cx="2058.23" cy="500.52" r="4.75"/><circle cx="2098.6" cy="500.52" r="4.75"/><circle cx="2138.97" cy="500.52" r="4.75"/><circle cx="2179.33" cy="500.52" r="4.75"/><circle cx="2219.7" cy="500.52" r="4.75"/></g>
<g fill="#fff" stroke="#c3c3c3" stroke-width="1.8"><circle cx="80.3" cy="560.3" r="4.4"/><circle cx="120.67" cy="560.3" r="4.4"/><circle cx="161.03" cy="554.98" r="4.4"/><circle cx="161.03" cy="557.35" r="4.4"/><circle cx="161.03" cy="560.3" r="4.4"/><circle cx="201.4" cy="552.62" r="4.4"/><circle cx="201.4" cy="554.98" r="4.4"/><circle cx="201.4" cy="557.94" r="4.4"/><circle cx="201.4" cy="560.3" r="4.4"/><circle cx="241.76" cy="545.53" r="4.4"/><circle cx="241.76" cy="547.3" r="4.4"/><circle cx="241.76" cy="552.5" r="4.4"/><circle cx="241.76" cy="557.46" r="4.4"/><circle cx="241.76" cy="560.3" r="4.4"/><circle cx="282.13" cy="545.53" r="4.4"/><circle cx="282.13" cy="547.3" r="4.4"/><circle cx="282.13" cy="552.5" r="4.4"/><circle cx="282.13" cy="557.46" r="4.4"/><circle cx="282.13" cy="560.3" r="4.4"/><circle cx="322.5" cy="545.53" r="4.4"/><circle cx="322.5" cy="547.3" r="4.4"/><circle cx="322.5" cy="552.5" r="4.4"/><circle cx="322.5" cy="557.46" r="4.4"/><circle cx="322.5" cy="560.3" r="4.4"/><circle cx="362.86" cy="545.53" r="4.4"/><circle cx="362.86" cy="547.3" r="4.4"/><circle cx="362.86" cy="552.5" r="4.4"/><circle cx="362.86" cy="557.46" r="4.4"/><circle cx="362.86" cy="560.3" r="4.4"/><circle cx="403.23" cy="545.53" r="4.4"/><circle cx="403.23" cy="547.3" r="4.4"/><circle cx="403.23" cy="552.5" r="4.4"/><circle cx="403.23" cy="557.46" r="4.4"/><circle cx="403.23" cy="560.3" r="4.4"/><circle cx="443.59" cy="545.53" r="4.4"/><circle cx="443.59" cy="547.3" r="4.4"/><circle cx="443.59" cy="552.5" r="4.4"/><circle cx="443.59" cy="557.46" r="4.4"/><circle cx="443.59" cy="560.3" r="4.4"/><circle cx="483.96" cy="545.53" r="4.4"/><circle cx="483.96" cy="547.3" r="4.4"/><circle cx="483.96" cy="552.5" r="4.4"/><circle cx="483.96" cy="557.46" r="4.4"/><circle cx="483.96" cy="560.3" r="4.4"/><circle cx="524.33" cy="545.53" r="4.4"/><circle cx="524.33" cy="547.3" r="4.4"/><circle cx="524.33" cy="552.5" r="4.4"/><circle cx="524.33" cy="557.46" r="4.4"/><circle cx="524.33" cy="560.3" r="4.4"/><circle cx="564.69" cy="545.53" r="4.4"/><circle cx="564.69" cy="547.3" r="4.4"/><circle cx="564.69" cy="552.5" r="4.4"/><circle cx="564.69" cy="557.46" r="4.4"/><circle cx="564.69" cy="560.3" r="4.4"/><circle cx="605.06" cy="545.53" r="4.4"/><circle cx="605.06" cy="547.3" r="4.4"/><circle cx="605.06" cy="552.5" r="4.4"/><circle cx="605.06" cy="557.46" r="4.4"/><circle cx="605.06" cy="560.3" r="4.4"/><circle cx="645.42" cy="545.53" r="4.4"/><circle cx="645.42" cy="547.3" r="4.4"/><circle cx="645.42" cy="552.5" r="4.4"/><circle cx="645.42" cy="557.46" r="4.4"/><circle cx="645.42" cy="560.3" r="4.4"/><circle cx="685.79" cy="545.53" r="4.4"/><circle cx="685.79" cy="547.3" r="4.4"/><circle cx="685.79" cy="552.5" r="4.4"/><circle cx="685.79" cy="557.46" r="4.4"/><circle cx="685.79" cy="560.3" r="4.4"/><circle cx="726.16" cy="545.53" r="4.4"/><circle cx="726.16" cy="547.3" r="4.4"/><circle cx="726.16" cy="552.5" r="4.4"/><circle cx="726.16" cy="557.46" r="4.4"/><circle cx="726.16" cy="560.3" r="4.4"/><circle cx="766.52" cy="545.53" r="4.4"/><circle cx="766.52" cy="547.3" r="4.4"/><circle cx="766.52" cy="552.5" r="4.4"/><circle cx="766.52" cy="557.46" r="4.4"/><circle cx="766.52" cy="560.3" r="4.4"/><circle cx="806.89" cy="545.53" r="4.4"/><circle cx="806.89" cy="547.3" r="4.4"/><circle cx="806.89" cy="552.5" r="4.4"/><circle cx="806.89" cy="557.46" r="4.4"/><circle cx="806.89" cy="560.3" r="4.4"/><circle cx="847.25" cy="545.53" r="4.4"/><circle cx="847.25" cy="547.3" r="4.4"/><circle cx="847.25" cy="552.5" r="4.4"/><circle cx="847.25" cy="557.46" r="4.4"/><circle cx="847.25" cy="560.3" r="4.4"/><circle cx="887.62" cy="545.53" r="4.4"/><circle cx="887.62" cy="547.3" r="4.4"/><circle cx="887.62" cy="552.5" r="4.4"/><circle cx="887.62" cy="557.46" r="4.4"/><circle cx="887.62" cy="560.3" r="4.4"/><circle cx="927.99" cy="545.53" r="4.4"/><circle cx="927.99" cy="547.3" r="4.4"/><circle cx="927.99" cy="552.5" r="4.4"/><circle cx="927.99" cy="557.46" r="4.4"/><circle cx="927.99" cy="560.3" r="4.4"/><circle cx="968.35" cy="545.53" r="4.4"/><circle cx="968.35" cy="547.3" r="4.4"/><circle cx="968.35" cy="552.5" r="4.4"/><circle cx="968.35" cy="557.46" r="4.4"/><circle cx="968.35" cy="560.3" r="4.4"/><circle cx="1008.72" cy="545.53" r="4.4"/><circle cx="1008.72" cy="547.3" r="4.4"/><circle cx="1008.72" cy="552.5" r="4.4"/><circle cx="1008.72" cy="557.46" r="4.4"/><circle cx="1008.72" cy="560.3" r="4.4"/><circle cx="1049.08" cy="545.53" r="4.4"/><circle cx="1049.08" cy="547.3" r="4.4"/><circle cx="1049.08" cy="552.5" r="4.4"/><circle cx="1049.08" cy="557.46" r="4.4"/><circle cx="1049.08" cy="560.3" r="4.4"/><circle cx="1089.45" cy="545.53" r="4.4"/><circle cx="1089.45" cy="547.3" r="4.4"/><circle cx="1089.45" cy="552.5" r="4.4"/><circle cx="1089.45" cy="557.46" r="4.4"/><circle cx="1089.45" cy="560.3" r="4.4"/><circle cx="1129.82" cy="545.53" r="4.4"/><circle cx="1129.82" cy="547.3" r="4.4"/><circle cx="1129.82" cy="552.5" r="4.4"/><circle cx="1129.82" cy="557.46" r="4.4"/><circle cx="1129.82" cy="560.3" r="4.4"/><circle cx="1170.18" cy="545.53" r="4.4"/><circle cx="1170.18" cy="547.3" r="4.4"/><circle cx="1170.18" cy="552.5" r="4.4"/><circle cx="1170.18" cy="557.46" r="4.4"/><circle cx="1170.18" cy="560.3" r="4.4"/><circle cx="1210.55" cy="545.53" r="4.4"/><circle cx="1210.55" cy="547.3" r="4.4"/><circle cx="1210.55" cy="552.5" r="4.4"/><circle cx="1210.55" cy="557.46" r="4.4"/><circle cx="1210.55" cy="560.3" r="4.4"/><circle cx="1250.91" cy="545.53" r="4.4"/><circle cx="1250.91" cy="547.3" r="4.4"/><circle cx="1250.91" cy="552.5" r="4.4"/><circle cx="1250.91" cy="557.46" r="4.4"/><circle cx="1250.91" cy="560.3" r="4.4"/><circle cx="1291.28" cy="545.53" r="4.4"/><circle cx="1291.28" cy="547.3" r="4.4"/><circle cx="1291.28" cy="552.5" r="4.4"/><circle cx="1291.28" cy="557.46" r="4.4"/><circle cx="1291.28" cy="560.3" r="4.4"/><circle cx="1331.65" cy="545.53" r="4.4"/><circle cx="1331.65" cy="547.3" r="4.4"/><circle cx="1331.65" cy="552.5" r="4.4"/><circle cx="1331.65" cy="557.46" r="4.4"/><circle cx="1331.65" cy="560.3" r="4.4"/><circle cx="1372.01" cy="545.53" r="4.4"/><circle cx="1372.01" cy="547.3" r="4.4"/><circle cx="1372.01" cy="552.5" r="4.4"/><circle cx="1372.01" cy="557.46" r="4.4"/><circle cx="1372.01" cy="560.3" r="4.4"/><circle cx="1412.38" cy="545.53" r="4.4"/><circle cx="1412.38" cy="547.3" r="4.4"/><circle cx="1412.38" cy="552.5" r="4.4"/><circle cx="1412.38" cy="557.46" r="4.4"/><circle cx="1412.38" cy="560.3" r="4.4"/><circle cx="1452.74" cy="545.53" r="4.4"/><circle cx="1452.74" cy="547.3" r="4.4"/><circle cx="1452.74" cy="552.5" r="4.4"/><circle cx="1452.74" cy="557.46" r="4.4"/><circle cx="1452.74" cy="560.3" r="4.4"/><circle cx="1493.11" cy="545.53" r="4.4"/><circle cx="1493.11" cy="547.3" r="4.4"/><circle cx="1493.11" cy="552.5" r="4.4"/><circle cx="1493.11" cy="557.46" r="4.4"/><circle cx="1493.11" cy="560.3" r="4.4"/><circle cx="1533.48" cy="545.53" r="4.4"/><circle cx="1533.48" cy="547.3" r="4.4"/><circle cx="1533.48" cy="552.5" r="4.4"/><circle cx="1533.48" cy="557.46" r="4.4"/><circle cx="1533.48" cy="560.3" r="4.4"/><circle cx="1573.84" cy="545.53" r="4.4"/><circle cx="1573.84" cy="547.3" r="4.4"/><circle cx="1573.84" cy="552.5" r="4.4"/><circle cx="1573.84" cy="557.46" r="4.4"/><circle cx="1573.84" cy="560.3" r="4.4"/><circle cx="1614.21" cy="545.53" r="4.4"/><circle cx="1614.21" cy="547.3" r="4.4"/><circle cx="1614.21" cy="552.5" r="4.4"/><circle cx="1614.21" cy="557.46" r="4.4"/><circle cx="1614.21" cy="560.3" r="4.4"/><circle cx="1654.57" cy="545.53" r="4.4"/><circle cx="1654.57" cy="547.3" r="4.4"/><circle cx="1654.57" cy="552.5" r="4.4"/><circle cx="1654.57" cy="557.46" r="4.4"/><circle cx="1654.57" cy="560.3" r="4.4"/><circle cx="1694.94" cy="545.53" r="4.4"/><circle cx="1694.94" cy="547.3" r="4.4"/><circle cx="1694.94" cy="552.5" r="4.4"/><circle cx="1694.94" cy="557.46" r="4.4"/><circle cx="1694.94" cy="560.3" r="4.4"/><circle cx="1735.31" cy="545.53" r="4.4"/><circle cx="1735.31" cy="547.3" r="4.4"/><circle cx="1735.31" cy="552.5" r="4.4"/><circle cx="1735.31" cy="557.46" r="4.4"/><circle cx="1735.31" cy="560.3" r="4.4"/><circle cx="1775.67" cy="545.53" r="4.4"/><circle cx="1775.67" cy="547.3" r="4.4"/><circle cx="1775.67" cy="552.5" r="4.4"/><circle cx="1775.67" cy="557.46" r="4.4"/><circle cx="1775.67" cy="560.3" r="4.4"/><circle cx="1816.04" cy="545.53" r="4.4"/><circle cx="1816.04" cy="547.3" r="4.4"/><circle cx="1816.04" cy="552.5" r="4.4"/><circle cx="1816.04" cy="557.46" r="4.4"/><circle cx="1816.04" cy="560.3" r="4.4"/><circle cx="1856.4" cy="545.53" r="4.4"/><circle cx="1856.4" cy="547.3" r="4.4"/><circle cx="1856.4" cy="552.5" r="4.4"/><circle cx="1856.4" cy="557.46" r="4.4"/><circle cx="1856.4" cy="560.3" r="4.4"/><circle cx="1896.77" cy="545.53" r="4.4"/><circle cx="1896.77" cy="547.3" r="4.4"/><circle cx="1896.77" cy="552.5" r="4.4"/><circle cx="1896.77" cy="557.46" r="4.4"/><circle cx="1896.77" cy="560.3" r="4.4"/><circle cx="1937.14" cy="545.53" r="4.4"/><circle cx="1937.14" cy="547.3" r="4.4"/><circle cx="1937.14" cy="552.5" r="4.4"/><circle cx="1937.14" cy="557.46" r="4.4"/><circle cx="1937.14" cy="560.3" r="4.4"/><circle cx="1977.5" cy="545.53" r="4.4"/><circle cx="1977.5" cy="547.3" r="4.4"/><circle cx="1977.5" cy="552.5" r="4.4"/><circle cx="1977.5" cy="557.46" r="4.4"/><circle cx="1977.5" cy="560.3" r="4.4"/><circle cx="2017.87" cy="545.53" r="4.4"/><circle cx="2017.87" cy="547.3" r="4.4"/><circle cx="2017.87" cy="552.5" r="4.4"/><circle cx="2017.87" cy="557.46" r="4.4"/><circle cx="2017.87" cy="560.3" r="4.4"/><circle cx="2058.23" cy="545.53" r="4.4"/><circle cx="2058.23" cy="547.3" r="4.4"/><circle cx="2058.23" cy="552.5" r="4.4"/><circle cx="2058.23" cy="557.46" r="4.4"/><circle cx="2058.23" cy="560.3" r="4.4"/><circle cx="2098.6" cy="545.53" r="4.4"/><circle cx="2098.6" cy="547.3" r="4.4"/><circle cx="2098.6" cy="552.5" r="4.4"/><circle cx="2098.6" cy="557.46" r="4.4"/><circle cx="2098.6" cy="560.3" r="4.4"/><circle cx="2138.97" cy="545.53" r="4.4"/><circle cx="2138.97" cy="547.3" r="4.4"/><circle cx="2138.97" cy="552.5" r="4.4"/><circle cx="2138.97" cy="557.46" r="4.4"/><circle cx="2138.97" cy="560.3" r="4.4"/><circle cx="2179.33" cy="545.53" r="4.4"/><circle cx="2179.33" cy="547.3" r="4.4"/><circle cx="2179.33" cy="552.5" r="4.4"/><circle cx="2179.33" cy="557.46" r="4.4"/><circle cx="2179.33" cy="560.3" r="4.4"/><circle cx="2219.7" cy="545.53" r="4.4"/><circle cx="2219.7" cy="547.3" r="4.4"/><circle cx="2219.7" cy="552.5" r="4.4"/><circle cx="2219.7" cy="557.46" r="4.4"/><circle cx="2219.7" cy="560.3" r="4.4"/></g>
<path d="M80.3 560.3 120.67 560.3 161.03 560.3 201.4 560.3 241.76 560.3 282.13 560.3 322.5 560.3 362.86 560.3 403.23 560.3 443.59 560.3 483.96 560.3 524.33 560.3 564.69 560.3 605.06 560.3 645.42 560.3 685.79 560.3 726.16 560.3 766.52 560.3 806.89 560.3 847.25 560.3 887.62 560.3 927.99 560.3 968.35 560.3 1008.72 560.3 1049.08 560.3 1089.45 560.3 1129.82 560.3 1170.18 560.3 1210.55 560.3 1250.91 560.3 1291.28 560.3 1331.65 560.3 1372.01 560.3 1412.38 560.3 1452.74 560.3 1493.11 560.3 1533.48 560.3 1573.84 560.3 1614.21 560.3 1654.57 560.3 1694.94 560.3 1735.31 560.3 1775.67 560.3 1816.04 560.3 1856.4 560.3 1896.77 560.3 1937.14 560.3 1977.5 560.3 2017.87 560.3 2058.23 560.3 2098.6 560.3 2138.97 560.3 2179.33 560.3 2219.7 560.3" stroke="#ccb6ff" stroke-width="3.2" fill="none" stroke-linejoin="round" stroke-linecap="round"/><g fill="#cbb6fd" stroke="#9277cf" stroke-width="1.8"><circle cx="80.3" cy="560.3" r="4.75"/><circle cx="120.67" cy="560.3" r="4.75"/><circle cx="161.03" cy="560.3" r="4.75"/><circle cx="201.4" cy="560.3" r="4.75"/><circle cx="241.76" cy="560.3" r="4.75"/><circle cx="282.13" cy="560.3" r="4.75"/><circle cx="322.5" cy="560.3" r="4.75"/><circle cx="362.86" cy="560.3" r="4.75"/><circle cx="403.23" cy="560.3" r="4.75"/><circle cx="443.59" cy="560.3" r="4.75"/><circle cx="483.96" cy="560.3" r="4.75"/><circle cx="524.33" cy="560.3" r="4.75"/><circle cx="564.69" cy="560.3" r="4.75"/><circle cx="605.06" cy="560.3" r="4.75"/><circle cx="645.42" cy="560.3" r="4.75"/><circle cx="685.79" cy="560.3" r="4.75"/><circle cx="726.16" cy="560.3" r="4.75"/><circle cx="766.52" cy="560.3" r="4.75"/><circle cx="806.89" cy="560.3" r="4.75"/><circle cx="847.25" cy="560.3" r="4.75"/><circle cx="887.62" cy="560.3" r="4.75"/><circle cx="927.99" cy="560.3" r="4.75"/><circle cx="968.35" cy="560.3" r="4.75"/><circle cx="1008.72" cy="560.3" r="4.75"/><circle cx="1049.08" cy="560.3" r="4.75"/><circle cx="1089.45" cy="560.3" r="4.75"/><circle cx="1129.82" cy="560.3" r="4.75"/><circle cx="1170.18" cy="560.3" r="4.75"/><circle cx="1210.55" cy="560.3" r="4.75"/><circle cx="1250.91" cy="560.3" r="4.75"/><circle cx="1291.28" cy="560.3" r="4.75"/><circle cx="1331.65" cy="560.3" r="4.75"/><circle cx="1372.01" cy="560.3" r="4.75"/><circle cx="1412.38" cy="560.3" r="4.75"/><circle cx="1452.74" cy="560.3" r="4.75"/><circle cx="1493.11" cy="560.3" r="4.75"/><circle cx="1533.48" cy="560.3" r="4.75"/><circle cx="1573.84" cy="560.3" r="4.75"/><circle cx="1614.21" cy="560.3" r="4.75"/><circle cx="1654.57" cy="560.3" r="4.75"/><circle cx="1694.94" cy="560.3" r="4.75"/><circle cx="1735.31" cy="560.3" r="4.75"/><circle cx="1775.67" cy="560.3" r="4.75"/><circle cx="1816.04" cy="560.3" r="4.75"/><circle cx="1856.4" cy="560.3" r="4.75"/><circle cx="1896.77" cy="560.3" r="4.75"/><circle cx="1937.14" cy="560.3" r="4.75"/><circle cx="1977.5" cy="560.3" r="4.75"/><circle cx="2017.87" cy="560.3" r="4.75"/><circle cx="2058.23" cy="560.3" r="4.75"/><circle cx="2098.6" cy="560.3" r="4.75"/><circle cx="2138.97" cy="560.3" r="4.75"/><circle cx="2179.33" cy="560.3" r="4.75"/><circle cx="2219.7" cy="560.3" r="4.75"/></g>
<path d="M80.3 553.8 120.67 553.8 161.03 547.3 201.4 539.03 241.76 529.58 282.13 522.5 322.5 514.7 362.86 507.96 403.23 501.35 443.59 493.91 483.96 489.3 524.33 479.96 564.69 471.22 605.06 454.92 645.42 447.95 685.79 440.03 726.16 430.11 766.52 418.06 806.89 409.32 847.25 395.49 887.62 386.99 927.99 376.71 968.35 369.15 1008.72 358.28 1049.08 349.3 1089.45 339.97 1129.82 328.27 1170.18 317.64 1210.55 308.31 1250.91 300.63 1291.28 292.36 1331.65 284.32 1372.01 279.95 1412.38 273.34 1452.74 265.3 1493.11 259.04 1533.48 252.31 1573.84 245.69 1614.21 239.08 1654.57 232.34 1694.94 223.36 1735.31 220.06 1775.67 217.34 1816.04 211.08 1856.4 205.05 1896.77 195.96 1937.14 186.03 1977.5 179.06 2017.87 171.03 2058.23 164.29 2098.6 158.27 2138.97 103.57 2179.33 76.4 2219.7 55.96" stroke="#22aa11" stroke-width="3.0" fill="none" stroke-linejoin="round" stroke-linecap="round"/><path d="M120.67 553.8 L161.03 547.3 M161.03 547.3 L201.4 539.03 M201.4 539.03 L241.76 529.58 M241.76 529.58 L282.13 522.5 M282.13 522.5 L322.5 514.7 M322.5 514.7 L362.86 507.96 M362.86 507.96 L403.23 501.35 M403.23 501.35 L443.59 493.91 M443.59 493.91 L483.96 489.3 M483.96 489.3 L524.33 479.96 M524.33 479.96 L564.69 471.22 M564.69 471.22 L605.06 454.92 M605.06 454.92 L645.42 447.95 M645.42 447.95 L685.79 440.03 M685.79 440.03 L726.16 430.11 M726.16 430.11 L766.52 418.06 M766.52 418.06 L806.89 409.32 M806.89 409.32 L847.25 395.49 M847.25 395.49 L887.62 386.99 M887.62 386.99 L927.99 376.71 M927.99 376.71 L968.35 369.15 M968.35 369.15 L1008.72 358.28 M1008.72 358.28 L1049.08 349.3 M1049.08 349.3 L1089.45 339.97 M1089.45 339.97 L1129.82 328.27 M1129.82 328.27 L1170.18 317.64 M1170.18 317.64 L1210.55 308.31 M1210.55 308.31 L1250.91 300.63 M1250.91 300.63 L1291.28 292.36 M1291.28 292.36 L1331.65 284.32 M1331.65 284.32 L1372.01 279.95 M1372.01 279.95 L1412.38 273.34 M1412.38 273.34 L1452.74 265.3 M1452.74 265.3 L1493.11 259.04 M1493.11 259.04 L1533.48 252.31 M1533.48 252.31 L1573.84 245.69 M1573.84 245.69 L1614.21 239.08 M1614.21 239.08 L1654.57 232.34 M1654.57 232.34 L1694.94 223.36 M1694.94 223.36 L1735.31 220.06 M1735.31 220.06 L1775.67 217.34 M1775.67 217.34 L1816.04 211.08 M1816.04 211.08 L1856.4 205.05 M1856.4 205.05 L1896.77 195.96 M1896.77 195.96 L1937.14 186.03 M1937.14 186.03 L1977.5 179.06 M1977.5 179.06 L2017.87 171.03 M2017.87 171.03 L2058.23 164.29 M2058.23 164.29 L2098.6 158.27 M2098.6 158.27 L2138.97 103.57 M2138.97 103.57 L2179.33 76.4 M2179.33 76.4 L2219.7 55.96" stroke="#fff" stroke-opacity="0.45" stroke-width="0.9" stroke-dasharray="1.5 1.5" fill="none"/><g fill="#22a812" stroke="#0b6b0b" stroke-width="1.8"><circle cx="80.3" cy="553.8" r="4.75"/><circle cx="120.67" cy="553.8" r="4.75"/><circle cx="161.03" cy="547.3" r="4.75"/><circle cx="201.4" cy="539.03" r="4.75"/><circle cx="241.76" cy="529.58" r="4.75"/><circle cx="282.13" cy="522.5" r="4.75"/><circle cx="322.5" cy="514.7" r="4.75"/><circle cx="362.86" cy="507.96" r="4.75"/><circle cx="403.23" cy="501.35" r="4.75"/><circle cx="443.59" cy="493.91" r="4.75"/><circle cx="483.96" cy="489.3" r="4.75"/><circle cx="524.33" cy="479.96" r="4.75"/><circle cx="564.69" cy="471.22" r="4.75"/><circle cx="605.06" cy="454.92" r="4.75"/><circle cx="645.42" cy="447.95" r="4.75"/><circle cx="685.79" cy="440.03" r="4.75"/><circle cx="726.16" cy="430.11" r="4.75"/><circle cx="766.52" cy="418.06" r="4.75"/><circle cx="806.89" cy="409.32" r="4.75"/><circle cx="847.25" cy="395.49" r="4.75"/><circle cx="887.62" cy="386.99" r="4.75"/><circle cx="927.99" cy="376.71" r="4.75"/><circle cx="968.35" cy="369.15" r="4.75"/><circle cx="1008.72" cy="358.28" r="4.75"/><circle cx="1049.08" cy="349.3" r="4.75"/><circle cx="1089.45" cy="339.97" r="4.75"/><circle cx="1129.82" cy="328.27" r="4.75"/><circle cx="1170.18" cy="317.64" r="4.75"/><circle cx="1210.55" cy="308.31" r="4.75"/><circle cx="1250.91" cy="300.63" r="4.75"/><circle cx="1291.28" cy="292.36" r="4.75"/><circle cx="1331.65" cy="284.32" r="4.75"/><circle cx="1372.01" cy="279.95" r="4.75"/><circle cx="1412.38" cy="273.34" r="4.75"/><circle cx="1452.74" cy="265.3" r="4.75"/><circle cx="1493.11" cy="259.04" r="4.75"/><circle cx="1533.48" cy="252.31" r="4.75"/><circle cx="1573.84" cy="245.69" r="4.75"/><circle cx="1614.21" cy="239.08" r="4.75"/><circle cx="1654.57" cy="232.34" r="4.75"/><circle cx="1694.94" cy="223.36" r="4.75"/><circle cx="1735.31" cy="220.06" r="4.75"/><circle cx="1775.67" cy="217.34" r="4.75"/><circle cx="1816.04" cy="211.08" r="4.75"/><circle cx="1856.4" cy="205.05" r="4.75"/><circle cx="1896.77" cy="195.96" r="4.75"/><circle cx="1937.14" cy="186.03" r="4.75"/><circle cx="1977.5" cy="179.06" r="4.75"/><circle cx="2017.87" cy="171.03" r="4.75"/><circle cx="2058.23" cy="164.29" r="4.75"/><circle cx="2098.6" cy="158.27" r="4.75"/><circle cx="2138.97" cy="103.57" r="4.75"/><circle cx="2179.33" cy="76.4" r="4.75"/><circle cx="2219.7" cy="55.96" r="4.75"/></g>
<path d="M80.3 552.38 120.67 552.38 161.03 546.24 201.4 537.5 241.76 528.76 282.13 521.31 322.5 512.22 362.86 502.65 403.23 493.31 443.59 481.26 483.96 472.05 524.33 460.83 564.69 448.07 605.06 426.8 645.42 408.49 685.79 391.24 726.16 353.32 766.52 345.05 806.89 337.72 847.25 332.29 887.62 332.29 927.99 332.29 968.35 332.29 1008.72 332.29 1049.08 332.29 1089.45 332.29 1129.82 332.29 1170.18 332.29 1210.55 332.29 1250.91 332.29 1291.28 332.29 1331.65 332.29 1372.01 332.29 1412.38 332.29 1452.74 332.29 1493.11 332.29 1533.48 332.29 1573.84 332.29 1614.21 332.29 1654.57 332.29 1694.94 332.29 1735.31 332.29 1775.67 332.29 1816.04 332.29 1856.4 332.29 1896.77 332.29 1937.14 332.29 1977.5 332.29 2017.87 332.29 2058.23 332.29 2098.6 332.29 2138.97 332.29 2179.33 332.29 2219.7 332.29" stroke="#1a9a7e" stroke-width="2.9" fill="none" stroke-linejoin="round" stroke-linecap="round"/><path d="M120.67 552.38 L161.03 546.24 M161.03 546.24 L201.4 537.5 M201.4 537.5 L241.76 528.76 M241.76 528.76 L282.13 521.31 M282.13 521.31 L322.5 512.22 M322.5 512.22 L362.86 502.65 M362.86 502.65 L403.23 493.31 M403.23 493.31 L443.59 481.26 M443.59 481.26 L483.96 472.05 M483.96 472.05 L524.33 460.83 M524.33 460.83 L564.69 448.07 M564.69 448.07 L605.06 426.8 M605.06 426.8 L645.42 408.49 M645.42 408.49 L685.79 391.24 M685.79 391.24 L726.16 353.32 M726.16 353.32 L766.52 345.05 M766.52 345.05 L806.89 337.72 M806.89 337.72 L847.25 332.29" stroke="#fff" stroke-opacity="0.45" stroke-width="0.9" stroke-dasharray="1.5 1.5" fill="none"/><g fill="#1f9e84" stroke="#0b6a4a" stroke-width="1.8"><circle cx="80.3" cy="552.38" r="4.75"/><circle cx="120.67" cy="552.38" r="4.75"/><circle cx="161.03" cy="546.24" r="4.75"/><circle cx="201.4" cy="537.5" r="4.75"/><circle cx="241.76" cy="528.76" r="4.75"/><circle cx="282.13" cy="521.31" r="4.75"/><circle cx="322.5" cy="512.22" r="4.75"/><circle cx="362.86" cy="502.65" r="4.75"/><circle cx="403.23" cy="493.31" r="4.75"/><circle cx="443.59" cy="481.26" r="4.75"/><circle cx="483.96" cy="472.05" r="4.75"/><circle cx="524.33" cy="460.83" r="4.75"/><circle cx="564.69" cy="448.07" r="4.75"/><circle cx="605.06" cy="426.8" r="4.75"/><circle cx="645.42" cy="408.49" r="4.75"/><circle cx="685.79" cy="391.24" r="4.75"/><circle cx="726.16" cy="353.32" r="4.75"/><circle cx="766.52" cy="345.05" r="4.75"/><circle cx="806.89" cy="337.72" r="4.75"/><circle cx="847.25" cy="332.29" r="4.75"/><circle cx="887.62" cy="332.29" r="4.75"/><circle cx="927.99" cy="332.29" r="4.75"/><circle cx="968.35" cy="332.29" r="4.75"/><circle cx="1008.72" cy="332.29" r="4.75"/><circle cx="1049.08" cy="332.29" r="4.75"/><circle cx="1089.45" cy="332.29" r="4.75"/><circle cx="1129.82" cy="332.29" r="4.75"/><circle cx="1170.18" cy="332.29" r="4.75"/><circle cx="1210.55" cy="332.29" r="4.75"/><circle cx="1250.91" cy="332.29" r="4.75"/><circle cx="1291.28" cy="332.29" r="4.75"/><circle cx="1331.65" cy="332.29" r="4.75"/><circle cx="1372.01" cy="332.29" r="4.75"/><circle cx="1412.38" cy="332.29" r="4.75"/><circle cx="1452.74" cy="332.29" r="4.75"/><circle cx="1493.11" cy="332.29" r="4.75"/><circle cx="1533.48" cy="332.29" r="4.75"/><circle cx="1573.84" cy="332.29" r="4.75"/><circle cx="1614.21" cy="332.29" r="4.75"/><circle cx="1654.57" cy="332.29" r="4.75"/><circle cx="1694.94" cy="332.29" r="4.75"/><circle cx="1735.31" cy="332.29" r="4.75"/><circle cx="1775.67" cy="332.29" r="4.75"/><circle cx="1816.04" cy="332.29" r="4.75"/><circle cx="1856.4" cy="332.29" r="4.75"/><circle cx="1896.77" cy="332.29" r="4.75"/><circle cx="1937.14" cy="332.29" r="4.75"/><circle cx="1977.5" cy="332.29" r="4.75"/><circle cx="2017.87" cy="332.29" r="4.75"/><circle cx="2058.23" cy="332.29" r="4.75"/><circle cx="2098.6" cy="332.29" r="4.75"/><circle cx="2138.97" cy="332.29" r="4.75"/><circle cx="2179.33" cy="332.29" r="4.75"/><circle cx="2219.7" cy="332.29" r="4.75"/></g>
<rect x="50.9" y="21" width="6" height="6" fill="#d8dde3"/>
<rect x="49.9" y="20" width="6" height="6" fill="#d9305f"/>
<text x="59.07" y="25" font-size="15.5" textLength="123.93" lengthAdjust="spacingAndGlyphs">Arena _agua al clima</text>
<rect x="191.1" y="21" width="6" height="6" fill="#d8dde3"/>
<rect x="190.1" y="20" width="6" height="6" fill="#88e8ff"/>
<text x="199.57" y="24.7" font-size="15.5" textLength="100.73" lengthAdjust="spacingAndGlyphs">Arena _agua tibia</text>
<rect x="308" y="21" width="6" height="6" fill="#d8dde3"/>
<rect x="307" y="20" width="6" height="6" fill="#ff9426"/>
<text x="315.77" y="26.8" font-size="15.5" textLength="45.34" lengthAdjust="spacingAndGlyphs">BioChar</text>
<rect x="370" y="21" width="6" height="6" fill="#d8dde3"/>
<rect x="369" y="20" width="6" height="6" fill="#a88890"/>
<text x="378.25" y="26.8" font-size="15.5" textLength="43.98" lengthAdjust="spacingAndGlyphs">Cocoon</text>
<rect x="430" y="21" width="6" height="6" fill="#d8dde3"/>
<rect x="429" y="20" width="6" height="6" fill="#ffb52e"/>
<text x="437.95" y="24.6" font-size="15.5" textLength="103.01" lengthAdjust="spacingAndGlyphs">Cocoon _Hidrogel</text>
<rect x="549.1" y="21" width="6" height="6" fill="#d8dde3"/>
<rect x="548.1" y="20" width="6" height="6" fill="#ff1a2a"/>
<text x="557.33" y="27" font-size="15.5" textLength="42.76" lengthAdjust="spacingAndGlyphs">Control</text>
<rect x="608.3" y="21" width="6" height="6" fill="#c6c6c6"/>
<rect x="607.3" y="20" width="6" height="6" fill="#ffffff"/>
<text x="615.87" y="24.6" font-size="15.5" textLength="106.93" lengthAdjust="spacingAndGlyphs">Control _AquaTibia</text>
<rect x="731.7" y="21" width="6" height="6" fill="#c6c6c6"/>
<rect x="730.7" y="20" width="6" height="6" fill="#ffffff"/>
<text x="739.87" y="24.6" font-size="15.5" textLength="143.92" lengthAdjust="spacingAndGlyphs">Control _AquaTibia _2019</text>
<rect x="892" y="21" width="6" height="6" fill="#c6c6c6"/>
<rect x="891" y="20" width="6" height="6" fill="#ffffff"/>
<text x="899.87" y="24.6" font-size="15.5" textLength="143.83" lengthAdjust="spacingAndGlyphs">Control _AquaTibia _2021</text>
<rect x="1052.1" y="21" width="6" height="6" fill="#c6c6c6"/>
<rect x="1051.1" y="20" width="6" height="6" fill="#ffffff"/>
<text x="1059.65" y="24.6" font-size="15.5" textLength="147.99" lengthAdjust="spacingAndGlyphs">Control _AquaTibia _2022</text>
<rect x="1216.1" y="21" width="6" height="6" fill="#c6c6c6"/>
<rect x="1215.1" y="20" width="6" height="6" fill="#ffffff"/>
<text x="1223.65" y="24.6" font-size="15.5" textLength="148.11" lengthAdjust="spacingAndGlyphs">Control _AquaTibia _2023</text>
<rect x="1379.9" y="21" width="6" height="6" fill="#c6c6c6"/>
<rect x="1378.9" y="20" width="6" height="6" fill="#ffffff"/>
<text x="1387.86" y="24.6" font-size="15.5" textLength="146.61" lengthAdjust="spacingAndGlyphs">Control _AquaTibia _2024</text>
<rect x="1543.9" y="21" width="6" height="6" fill="#c6c6c6"/>
<rect x="1542.9" y="20" width="6" height="6" fill="#ffffff"/>
<text x="1551.95" y="24.6" font-size="15.5" textLength="147.88" lengthAdjust="spacingAndGlyphs">Control _AquaTibia _2025</text>
<rect x="1708" y="21" width="6" height="6" fill="#d8dde3"/>
<rect x="1707" y="20" width="6" height="6" fill="#22ee22"/>
<text x="1715.94" y="26.6" font-size="15.5" textLength="31.74" lengthAdjust="spacingAndGlyphs">Corte</text>
<rect x="1756" y="21" width="6" height="6" fill="#d8dde3"/>
<rect x="1755" y="20" width="6" height="6" fill="#eeff22"/>
<text x="1763.62" y="26.6" font-size="15.5" textLength="70.59" lengthAdjust="spacingAndGlyphs">Growboxx®</text>
<rect x="1842.9" y="21" width="6" height="6" fill="#d8dde3"/>
<rect x="1841.9" y="20" width="6" height="6" fill="#4499ff"/>
<text x="1850.5" y="25.6" font-size="15.5" textLength="49.79" lengthAdjust="spacingAndGlyphs">Hidrogel</text>
<rect x="1907" y="21" width="6" height="6" fill="#d8dde3"/>
<rect x="1906" y="20" width="6" height="6" fill="#22ccff"/>
<text x="1914.63" y="25.6" font-size="15.5" textLength="18.47" lengthAdjust="spacingAndGlyphs">Lija</text>
<rect x="1942" y="21" width="6" height="6" fill="#d8dde3"/>
<rect x="1941" y="20" width="6" height="6" fill="#ff44ff"/>
<text x="1949.77" y="24.8" font-size="15.5" textLength="165.56" lengthAdjust="spacingAndGlyphs">Mix _germinacion+Ripio _Luz</text>
<rect x="2123.1" y="21" width="6" height="6" fill="#d8dde3"/>
<rect x="2122.1" y="20" width="6" height="6" fill="#7a1aff"/>
<text x="2130.65" y="25" font-size="15.5" textLength="165.59" lengthAdjust="spacingAndGlyphs">Mix _germinacion-Ripio _Luz</text>
</svg></body></html>
